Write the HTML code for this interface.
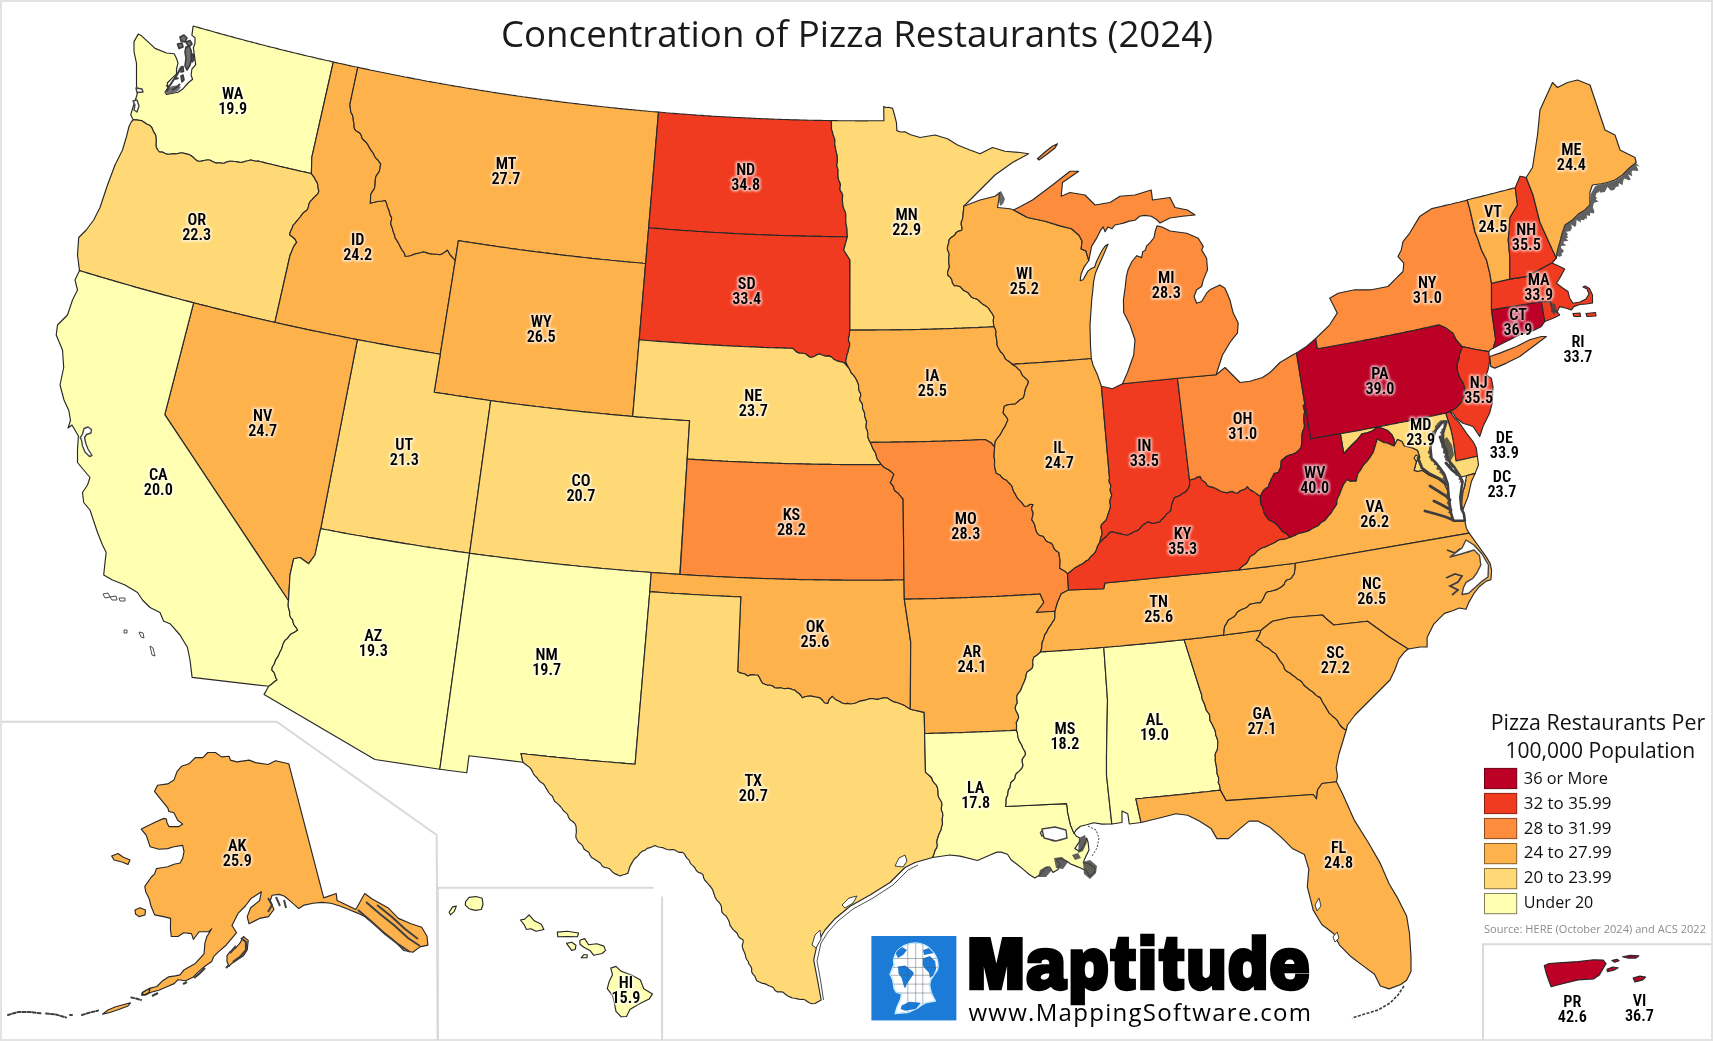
<!DOCTYPE html>
<html><head><meta charset="utf-8"><title>Concentration of Pizza Restaurants (2024)</title>
<style>
html,body{margin:0;padding:0;background:#fff;}
body{width:1713px;height:1041px;overflow:hidden;position:relative;}
svg{position:absolute;left:0;top:0;}
.s{stroke:#282828;stroke-width:1.15;stroke-linejoin:round;}
.w{fill:#fff;stroke:#444;stroke-width:1.4;stroke-linejoin:round;}
.lab text{font-family:"Roboto Condensed","Liberation Sans Narrow","Liberation Sans",sans-serif;font-weight:600;font-size:16.2px;text-anchor:middle;fill:#000;}
.halo text{font-family:"Roboto Condensed","Liberation Sans Narrow","Liberation Sans",sans-serif;font-weight:600;font-size:16.2px;text-anchor:middle;fill:#fff;stroke:#fff;stroke-width:3.2px;stroke-linejoin:round;opacity:0.7;}
.title{font-family:"Segoe UI","Open Sans","Liberation Sans",sans-serif;font-size:36.6px;fill:#1a1a1a;}
.leg{font-family:"Segoe UI","Open Sans","Liberation Sans",sans-serif;fill:#111;}
</style></head><body>
<svg width="1713" height="1041" viewBox="0 0 1713 1041">
<defs><filter id="blur" x="-20%" y="-20%" width="140%" height="140%"><feGaussianBlur stdDeviation="1.2"/></filter></defs>
<rect x="0" y="0" width="1713" height="1041" fill="#fff"/>
<rect x="1" y="1" width="1711" height="1039" fill="none" stroke="#e3e3e3" stroke-width="2"/>
<g fill="none" stroke="#d9d9d9" stroke-width="2">
<polyline points="2,721.7 276.7,721.7 436.7,835 437.7,1040"/>
<polyline points="437.8,1040 437.8,887.8 653.4,887.8"/>
<polyline points="662.1,896.5 662.1,1040"/>
<polyline points="1483.1,1040 1483.1,944.2 1711,944.2"/>
</g>
<g><path class="s" fill="#ffffb2" d="M193.1,26.0 195.5,26.7 198.0,27.4 200.4,28.1 202.8,28.8 205.3,29.5 207.7,30.1 210.2,30.8 212.6,31.5 215.1,32.2 217.5,32.9 220.0,33.6 222.4,34.2 224.9,34.9 227.3,35.6 229.8,36.2 232.2,36.9 234.7,37.6 237.1,38.2 239.6,38.9 242.0,39.5 244.5,40.2 246.9,40.9 249.4,41.5 251.8,42.1 254.3,42.8 256.8,43.4 259.2,44.1 261.7,44.7 264.1,45.3 266.6,46.0 269.1,46.6 271.5,47.2 274.0,47.8 276.4,48.4 278.9,49.1 281.4,49.7 283.8,50.3 286.3,50.9 288.8,51.5 291.2,52.1 293.7,52.7 296.2,53.3 298.6,53.9 301.1,54.5 303.6,55.1 306.0,55.7 308.5,56.3 311.0,56.8 313.5,57.4 315.9,58.0 318.4,58.6 320.9,59.1 323.4,59.7 325.8,60.3 328.3,60.8 330.8,61.4 333.3,62.0 311.8,157.3 311.4,173.6 311.4,173.6 308.7,173.0 306.1,172.4 303.4,171.8 300.7,171.2 298.1,170.6 295.4,170.0 292.7,169.4 290.1,168.8 287.4,168.1 284.7,167.5 282.1,166.9 279.4,166.3 276.8,165.6 274.1,165.0 271.4,164.3 268.8,163.7 266.1,163.1 263.5,162.4 260.8,161.8 258.2,161.1 255.6,161.2 253.1,160.5 250.6,160.0 248.0,160.8 245.5,161.3 243.0,162.1 240.2,162.5 237.5,161.9 234.7,161.5 231.9,161.3 229.2,161.2 226.5,162.1 224.1,163.3 221.5,163.1 218.9,162.7 216.4,163.1 212.9,161.8 209.6,160.0 206.8,160.0 203.9,160.5 201.1,161.1 197.9,161.2 195.1,159.2 192.8,157.0 190.5,155.3 188.0,154.3 185.3,153.6 182.7,153.0 179.8,153.0 177.3,153.7 174.8,153.9 172.3,153.8 169.8,154.2 167.1,154.1 164.7,153.2 162.3,152.1 159.4,152.0 157.4,149.5 156.0,146.6 156.0,143.5 156.2,140.6 156.0,137.7 155.7,135.2 154.6,133.4 153.3,131.2 152.5,128.9 151.1,126.6 149.0,125.0 146.6,123.9 144.1,122.2 141.5,120.6 138.8,120.2 136.0,119.9 133.2,119.8 130.7,114.8 133.2,106.5 136.5,96.5 138.2,89.9 136.5,86.6 136.5,63.3 134.0,51.6 134.0,41.6 138.2,34.1 141.5,35.8 153.2,46.6 155.0,48.4 166.5,53.0 174.2,53.8 176.5,58.4 178.0,63.0 176.5,69.2 176.5,73.8 171.9,78.4 167.3,83.0 168.1,87.6 165.0,92.2 166.5,94.5 178.0,92.2 182.7,89.1 188.0,83.0 192.6,79.2 191.1,75.3 191.9,69.2 195.7,64.6 194.2,53.8 193.4,47.7 195.0,43.0 195.0,37.7 191.9,35.4Z"/><path class="s" fill="#fed976" d="M133.2,119.8 136.0,119.9 138.8,120.2 141.5,120.6 144.1,122.2 146.6,123.9 149.0,125.0 151.1,126.6 152.5,128.9 153.3,131.2 154.6,133.4 155.7,135.2 156.0,137.7 156.2,140.6 156.0,143.5 156.0,146.6 157.4,149.5 159.4,152.0 162.3,152.1 164.7,153.2 167.1,154.1 169.8,154.2 172.3,153.8 174.8,153.9 177.3,153.7 179.8,153.0 182.7,153.0 185.3,153.6 188.0,154.3 190.5,155.3 192.8,157.0 195.1,159.2 197.9,161.2 201.1,161.1 203.9,160.5 206.8,160.0 209.6,160.0 212.9,161.8 216.4,163.1 218.9,162.7 221.5,163.1 224.1,163.3 226.5,162.1 229.2,161.2 231.9,161.3 234.7,161.5 237.5,161.9 240.2,162.5 243.0,162.1 245.5,161.3 248.0,160.8 250.6,160.0 253.1,160.5 255.6,161.2 258.2,161.1 260.8,161.8 263.5,162.4 266.1,163.1 268.8,163.7 271.4,164.3 274.1,165.0 276.8,165.6 279.4,166.3 282.1,166.9 284.7,167.5 287.4,168.1 290.1,168.8 292.7,169.4 295.4,170.0 298.1,170.6 300.7,171.2 303.4,171.8 306.1,172.4 308.7,173.0 311.4,173.6 311.4,173.6 313.1,175.8 314.6,177.9 315.8,180.4 317.2,182.6 317.9,185.4 318.1,188.3 318.9,191.2 317.8,193.9 315.8,195.8 313.8,197.6 312.1,199.7 310.2,201.6 309.0,203.9 308.5,206.6 307.7,209.1 305.9,211.1 303.6,212.6 301.9,214.5 300.3,216.8 298.5,219.0 296.7,221.2 294.9,223.4 293.0,225.3 292.4,227.6 291.2,230.0 290.1,232.4 289.8,235.1 292.6,237.0 295.1,239.2 296.7,242.4 294.8,244.9 293.4,247.3 292.3,249.9 291.3,252.5 290.1,255.0 274.9,322.4 272.2,321.8 269.4,321.2 266.6,320.5 263.8,319.9 261.1,319.3 258.3,318.6 255.5,318.0 252.7,317.3 250.0,316.7 247.2,316.0 244.4,315.4 241.6,314.7 238.9,314.0 236.1,313.4 233.3,312.7 230.6,312.0 227.8,311.4 225.0,310.7 222.3,310.0 219.5,309.3 216.7,308.6 214.0,308.0 211.2,307.3 208.5,306.6 205.7,305.9 202.9,305.2 200.2,304.5 197.4,303.8 194.7,303.1 191.9,302.3 189.1,301.6 186.4,300.9 183.6,300.2 180.9,299.5 178.1,298.7 175.4,298.0 172.6,297.3 169.9,296.5 167.1,295.8 164.4,295.1 161.6,294.3 158.9,293.6 156.1,292.8 153.4,292.1 150.6,291.3 147.9,290.6 145.1,289.8 142.4,289.0 139.7,288.3 136.9,287.5 134.2,286.7 131.4,285.9 128.7,285.2 126.0,284.4 123.2,283.6 120.5,282.8 117.7,282.0 115.0,281.2 112.3,280.4 109.5,279.6 106.8,278.8 104.1,278.0 101.4,277.2 98.6,276.4 95.9,275.6 93.2,274.8 90.4,274.0 87.7,273.1 85.0,272.3 82.3,271.5 79.5,270.6 77.5,255.0 78.7,237.5 86.2,230.0 93.7,220.0 100.0,207.5 107.5,185.0 115.0,165.0 122.5,150.0 126.5,136.5 129.0,126.5 131.5,121.5Z"/><path class="s" fill="#feb24c" d="M333.3,62.0 336.0,62.6 338.7,63.2 341.4,63.8 344.2,64.4 346.9,65.0 349.6,65.6 352.3,66.2 355.1,66.8 357.8,67.3 349.9,104.3 350.2,107.0 350.5,109.8 351.0,112.5 352.5,115.1 353.2,117.8 353.3,120.6 354.0,123.2 354.0,126.0 354.5,128.8 356.2,130.9 358.8,132.3 360.8,134.1 361.6,136.7 362.7,139.2 364.8,141.0 366.6,142.9 368.1,145.1 369.3,147.4 370.6,149.6 372.2,151.6 373.6,153.8 374.6,156.3 376.2,158.3 378.0,160.2 379.5,162.3 380.8,164.1 380.2,166.4 379.9,169.2 379.1,171.8 377.4,174.1 375.9,176.5 375.4,179.2 375.2,182.0 375.1,184.8 374.7,187.4 373.6,189.9 371.8,192.3 370.7,194.8 370.6,197.5 370.5,200.3 370.3,203.2 373.4,202.5 376.2,201.8 379.1,201.3 382.0,201.0 385.4,200.5 386.8,203.9 387.5,206.9 388.8,209.7 389.6,212.6 390.2,215.1 391.6,217.4 391.5,220.0 390.7,222.8 391.1,225.3 392.2,227.7 392.8,230.1 393.6,232.6 394.6,235.0 395.0,237.5 396.6,240.1 398.2,242.6 399.6,245.2 400.6,247.6 402.0,249.8 403.6,252.0 404.8,254.3 405.2,256.3 408.1,256.0 411.3,255.5 414.1,254.0 417.0,253.4 420.0,252.7 423.0,251.8 425.9,252.4 428.6,253.4 431.5,253.9 434.3,254.0 437.2,254.3 439.9,254.7 442.6,253.4 445.1,251.8 447.5,250.0 448.7,252.3 450.0,254.6 451.7,256.5 453.5,258.4 455.3,260.3 440.3,354.2 437.5,353.7 434.6,353.3 431.8,352.8 429.0,352.4 426.2,351.9 423.4,351.4 420.6,351.0 417.8,350.5 414.9,350.0 412.1,349.5 409.3,349.1 406.5,348.6 403.7,348.1 400.9,347.6 398.1,347.1 395.3,346.6 392.4,346.1 389.6,345.6 386.8,345.1 384.0,344.6 381.2,344.1 378.4,343.6 375.6,343.0 372.8,342.5 370.0,342.0 367.2,341.5 364.4,340.9 361.6,340.4 358.8,339.9 356.0,339.3 353.2,338.8 350.4,338.3 347.6,337.7 344.8,337.2 342.0,336.6 339.2,336.0 336.4,335.5 333.6,334.9 330.8,334.4 328.0,333.8 325.2,333.2 322.4,332.6 319.6,332.1 316.8,331.5 314.0,330.9 311.2,330.3 308.4,329.7 305.6,329.1 302.8,328.5 300.0,327.9 297.2,327.3 294.4,326.7 291.7,326.1 288.9,325.5 286.1,324.9 283.3,324.3 280.5,323.7 277.7,323.0 274.9,322.4 290.1,255.0 291.3,252.5 292.3,249.9 293.4,247.3 294.8,244.9 296.7,242.4 295.1,239.2 292.6,237.0 289.8,235.1 290.1,232.4 291.2,230.0 292.4,227.6 293.0,225.3 294.9,223.4 296.7,221.2 298.5,219.0 300.3,216.8 301.9,214.5 303.6,212.6 305.9,211.1 307.7,209.1 308.5,206.6 309.0,203.9 310.2,201.6 312.1,199.7 313.8,197.6 315.8,195.8 317.8,193.9 318.9,191.2 318.1,188.3 317.9,185.4 317.2,182.6 315.8,180.4 314.6,177.9 313.1,175.8 311.4,173.6 311.8,157.3Z"/><path class="s" fill="#feb24c" d="M357.8,67.3 360.3,67.9 362.7,68.4 365.2,68.9 367.7,69.4 370.2,70.0 372.7,70.5 375.1,71.0 377.6,71.5 380.1,72.0 382.6,72.5 385.1,73.0 387.6,73.5 390.1,74.0 392.5,74.5 395.0,75.0 397.5,75.5 400.0,76.0 402.5,76.5 405.0,77.0 407.5,77.4 410.0,77.9 412.5,78.4 414.9,78.9 417.4,79.3 419.9,79.8 422.4,80.3 424.9,80.7 427.4,81.2 429.9,81.6 432.4,82.1 434.9,82.5 437.4,83.0 439.9,83.4 442.4,83.9 444.9,84.3 447.4,84.8 449.9,85.2 452.4,85.6 454.9,86.1 457.4,86.5 459.9,86.9 462.4,87.3 464.9,87.8 467.4,88.2 469.9,88.6 472.4,89.0 474.9,89.4 477.4,89.8 479.9,90.2 482.4,90.6 484.9,91.0 487.4,91.4 489.9,91.8 492.4,92.2 494.9,92.6 497.4,93.0 499.9,93.4 502.4,93.7 504.9,94.1 507.4,94.5 509.9,94.9 512.4,95.2 515.0,95.6 517.5,96.0 520.0,96.3 522.5,96.7 525.0,97.0 527.5,97.4 530.0,97.7 532.5,98.1 535.0,98.4 537.5,98.8 540.1,99.1 542.6,99.5 545.1,99.8 547.6,100.1 550.1,100.4 552.6,100.8 555.1,101.1 557.7,101.4 560.2,101.7 562.7,102.1 565.2,102.4 567.7,102.7 570.2,103.0 572.7,103.3 575.3,103.6 577.8,103.9 580.3,104.2 582.8,104.5 585.3,104.8 587.9,105.1 590.4,105.4 592.9,105.7 595.4,105.9 597.9,106.2 600.5,106.5 603.0,106.8 605.5,107.0 608.0,107.3 610.5,107.6 613.1,107.8 615.6,108.1 618.1,108.4 620.6,108.6 623.1,108.9 625.7,109.1 628.2,109.4 630.7,109.6 633.2,109.8 635.8,110.1 638.3,110.3 640.8,110.6 643.3,110.8 645.9,111.0 648.4,111.2 650.9,111.5 653.4,111.7 656.0,111.9 658.5,112.1 645.6,263.5 643.0,263.3 640.3,263.0 637.6,262.8 634.9,262.5 632.2,262.3 629.5,262.1 626.8,261.8 624.2,261.6 621.5,261.3 618.8,261.1 616.1,260.8 613.4,260.5 610.7,260.3 608.1,260.0 605.4,259.7 602.7,259.5 600.0,259.2 597.3,258.9 594.7,258.6 592.0,258.4 589.3,258.1 586.6,257.8 583.9,257.5 581.3,257.2 578.6,256.9 575.9,256.6 573.2,256.3 570.6,256.0 567.9,255.7 565.2,255.4 562.5,255.1 559.8,254.7 557.2,254.4 554.5,254.1 551.8,253.8 549.1,253.4 546.5,253.1 543.8,252.8 541.1,252.4 538.4,252.1 535.8,251.8 533.1,251.4 530.4,251.1 527.8,250.7 525.1,250.4 522.4,250.0 519.7,249.7 517.1,249.3 514.4,248.9 511.7,248.6 509.1,248.2 506.4,247.8 503.7,247.4 501.1,247.1 498.4,246.7 495.7,246.3 493.1,245.9 490.4,245.5 487.7,245.1 485.1,244.7 482.4,244.3 479.7,243.9 477.1,243.5 474.4,243.1 471.7,242.7 469.1,242.3 466.4,241.9 463.7,241.5 461.1,241.0 458.4,240.6 455.3,260.3 453.5,258.4 451.7,256.5 450.0,254.6 448.7,252.3 447.5,250.0 445.1,251.8 442.6,253.4 439.9,254.7 437.2,254.3 434.3,254.0 431.5,253.9 428.6,253.4 425.9,252.4 423.0,251.8 420.0,252.7 417.0,253.4 414.1,254.0 411.3,255.5 408.1,256.0 405.2,256.3 404.8,254.3 403.6,252.0 402.0,249.8 400.6,247.6 399.6,245.2 398.2,242.6 396.6,240.1 395.0,237.5 394.6,235.0 393.6,232.6 392.8,230.1 392.2,227.7 391.1,225.3 390.7,222.8 391.5,220.0 391.6,217.4 390.2,215.1 389.6,212.6 388.8,209.7 387.5,206.9 386.8,203.9 385.4,200.5 382.0,201.0 379.1,201.3 376.2,201.8 373.4,202.5 370.3,203.2 370.5,200.3 370.6,197.5 370.7,194.8 371.8,192.3 373.6,189.9 374.7,187.4 375.1,184.8 375.2,182.0 375.4,179.2 375.9,176.5 377.4,174.1 379.1,171.8 379.9,169.2 380.2,166.4 380.8,164.1 379.5,162.3 378.0,160.2 376.2,158.3 374.6,156.3 373.6,153.8 372.2,151.6 370.6,149.6 369.3,147.4 368.1,145.1 366.6,142.9 364.8,141.0 362.7,139.2 361.6,136.7 360.8,134.1 358.8,132.3 356.2,130.9 354.5,128.8 354.0,126.0 354.0,123.2 353.3,120.6 353.2,117.8 352.5,115.1 351.0,112.5 350.5,109.8 350.2,107.0 349.9,104.3Z"/><path class="s" fill="#feb24c" d="M458.4,240.6 461.1,241.0 463.7,241.5 466.4,241.9 469.1,242.3 471.7,242.7 474.4,243.1 477.1,243.5 479.7,243.9 482.4,244.3 485.1,244.7 487.7,245.1 490.4,245.5 493.1,245.9 495.7,246.3 498.4,246.7 501.1,247.1 503.7,247.4 506.4,247.8 509.1,248.2 511.7,248.6 514.4,248.9 517.1,249.3 519.7,249.7 522.4,250.0 525.1,250.4 527.8,250.7 530.4,251.1 533.1,251.4 535.8,251.8 538.4,252.1 541.1,252.4 543.8,252.8 546.5,253.1 549.1,253.4 551.8,253.8 554.5,254.1 557.2,254.4 559.8,254.7 562.5,255.1 565.2,255.4 567.9,255.7 570.6,256.0 573.2,256.3 575.9,256.6 578.6,256.9 581.3,257.2 583.9,257.5 586.6,257.8 589.3,258.1 592.0,258.4 594.7,258.6 597.3,258.9 600.0,259.2 602.7,259.5 605.4,259.7 608.1,260.0 610.7,260.3 613.4,260.5 616.1,260.8 618.8,261.1 621.5,261.3 624.2,261.6 626.8,261.8 629.5,262.1 632.2,262.3 634.9,262.5 637.6,262.8 640.3,263.0 643.0,263.3 645.6,263.5 632.7,416.4 629.8,416.2 627.0,415.9 624.1,415.7 621.3,415.4 618.4,415.2 615.6,414.9 612.7,414.6 609.9,414.4 607.0,414.1 604.2,413.8 601.4,413.6 598.5,413.3 595.7,413.0 592.8,412.7 590.0,412.4 587.1,412.2 584.3,411.9 581.5,411.6 578.6,411.3 575.8,411.0 572.9,410.7 570.1,410.4 567.3,410.1 564.4,409.7 561.6,409.4 558.7,409.1 555.9,408.8 553.1,408.5 550.2,408.1 547.4,407.8 544.6,407.5 541.7,407.1 538.9,406.8 536.0,406.5 533.2,406.1 530.4,405.8 527.5,405.4 524.7,405.1 521.9,404.7 519.0,404.3 516.2,404.0 513.4,403.6 510.5,403.2 507.7,402.9 504.9,402.5 502.0,402.1 499.2,401.7 496.4,401.4 493.6,401.0 490.7,400.6 487.9,400.2 485.1,399.8 482.2,399.4 479.4,399.0 476.6,398.6 473.8,398.2 470.9,397.8 468.1,397.4 465.3,396.9 462.5,396.5 459.6,396.1 456.8,395.7 454.0,395.2 451.2,394.8 448.3,394.4 445.5,393.9 442.7,393.5 439.9,393.1 437.0,392.6 434.2,392.2 440.3,354.2 455.3,260.3Z"/><path class="s" fill="#fed976" d="M357.4,339.6 360.2,340.2 363.1,340.7 365.9,341.2 368.8,341.8 371.6,342.3 374.5,342.8 377.3,343.4 380.2,343.9 383.0,344.4 385.9,344.9 388.8,345.4 391.6,346.0 394.5,346.5 397.3,347.0 400.2,347.5 403.1,348.0 405.9,348.5 408.8,349.0 411.6,349.5 414.5,349.9 417.4,350.4 420.2,350.9 423.1,351.4 426.0,351.9 428.8,352.3 431.7,352.8 434.6,353.3 437.4,353.7 440.3,354.2 434.2,392.2 437.0,392.6 439.9,393.1 442.7,393.5 445.5,393.9 448.3,394.4 451.2,394.8 454.0,395.2 456.8,395.7 459.6,396.1 462.5,396.5 465.3,396.9 468.1,397.4 470.9,397.8 473.8,398.2 476.6,398.6 479.4,399.0 482.2,399.4 485.1,399.8 487.9,400.2 490.7,400.6 469.6,553.2 466.6,552.8 463.7,552.4 460.7,552.0 457.7,551.6 454.7,551.1 451.7,550.7 448.7,550.3 445.7,549.8 442.7,549.4 439.8,548.9 436.8,548.5 433.8,548.0 430.8,547.6 427.8,547.1 424.8,546.7 421.8,546.2 418.9,545.8 415.9,545.3 412.9,544.8 409.9,544.3 406.9,543.9 404.0,543.4 401.0,542.9 398.0,542.4 395.0,541.9 392.0,541.4 389.1,540.9 386.1,540.4 383.1,539.9 380.1,539.4 377.2,538.9 374.2,538.4 371.2,537.9 368.2,537.4 365.3,536.8 362.3,536.3 359.3,535.8 356.3,535.3 353.4,534.7 350.4,534.2 347.4,533.7 344.5,533.1 341.5,532.6 338.5,532.0 335.6,531.5 332.6,530.9 329.6,530.3 326.7,529.8 323.7,529.2 320.7,528.6Z"/><path class="s" fill="#fed976" d="M490.7,400.6 493.6,401.0 496.4,401.4 499.2,401.7 502.0,402.1 504.9,402.5 507.7,402.9 510.5,403.2 513.4,403.6 516.2,404.0 519.0,404.3 521.9,404.7 524.7,405.1 527.5,405.4 530.4,405.8 533.2,406.1 536.0,406.5 538.9,406.8 541.7,407.1 544.6,407.5 547.4,407.8 550.2,408.1 553.1,408.5 555.9,408.8 558.7,409.1 561.6,409.4 564.4,409.7 567.3,410.1 570.1,410.4 572.9,410.7 575.8,411.0 578.6,411.3 581.5,411.6 584.3,411.9 587.1,412.2 590.0,412.4 592.8,412.7 595.7,413.0 598.5,413.3 601.4,413.6 604.2,413.8 607.0,414.1 609.9,414.4 612.7,414.6 615.6,414.9 618.4,415.2 621.3,415.4 624.1,415.7 627.0,415.9 629.8,416.2 632.7,416.4 635.5,416.6 638.3,416.9 641.2,417.1 644.0,417.3 646.9,417.6 649.7,417.8 652.6,418.0 655.4,418.2 658.3,418.5 661.1,418.7 664.0,418.9 666.8,419.1 669.7,419.3 672.5,419.5 675.4,419.7 678.2,419.9 681.1,420.1 683.9,420.3 686.8,420.5 689.6,420.6 679.8,574.4 676.8,574.2 673.8,574.0 670.8,573.8 667.8,573.6 664.8,573.4 661.8,573.2 658.7,573.0 655.7,572.8 652.7,572.6 649.7,572.3 646.7,572.1 643.7,571.9 640.7,571.7 637.7,571.4 634.7,571.2 631.7,570.9 628.6,570.7 625.6,570.5 622.6,570.2 619.6,569.9 616.6,569.7 613.6,569.4 610.6,569.2 607.6,568.9 604.6,568.6 601.6,568.4 598.6,568.1 595.6,567.8 592.6,567.5 589.6,567.2 586.5,566.9 583.5,566.7 580.5,566.4 577.5,566.1 574.5,565.8 571.5,565.5 568.5,565.1 565.5,564.8 562.5,564.5 559.5,564.2 556.5,563.9 553.5,563.6 550.5,563.2 547.5,562.9 544.5,562.6 541.5,562.2 538.5,561.9 535.5,561.6 532.5,561.2 529.5,560.9 526.5,560.5 523.5,560.2 520.5,559.8 517.5,559.4 514.5,559.1 511.5,558.7 508.5,558.3 505.5,558.0 502.6,557.6 499.6,557.2 496.6,556.8 493.6,556.4 490.6,556.0 487.6,555.7 484.6,555.3 481.6,554.9 478.6,554.5 475.6,554.0 472.6,553.6 469.6,553.2Z"/><path class="s" fill="#feb24c" d="M193.6,302.8 196.4,303.5 199.1,304.2 201.9,304.9 204.7,305.6 207.4,306.3 210.2,307.0 212.9,307.7 215.7,308.4 218.5,309.1 221.2,309.8 224.0,310.4 226.7,311.1 229.5,311.8 232.3,312.5 235.0,313.1 237.8,313.8 240.6,314.5 243.3,315.1 246.1,315.8 248.9,316.4 251.6,317.1 254.4,317.7 257.2,318.4 260.0,319.0 262.7,319.6 265.5,320.3 268.3,320.9 271.0,321.5 273.8,322.2 276.6,322.8 279.4,323.4 282.2,324.0 284.9,324.7 287.7,325.3 290.5,325.9 293.3,326.5 296.0,327.1 298.8,327.7 301.6,328.3 304.4,328.9 307.2,329.5 310.0,330.1 312.7,330.6 315.5,331.2 318.3,331.8 321.1,332.4 323.9,333.0 326.7,333.5 329.5,334.1 332.2,334.7 335.0,335.2 337.8,335.8 340.6,336.3 343.4,336.9 346.2,337.4 349.0,338.0 351.8,338.5 354.6,339.1 357.4,339.6 320.7,528.6 315.0,555.0 308.7,563.7 300.0,557.5 293.7,558.7 290.0,575.0 288.5,600.8 164.8,414.6Z"/><path class="s" fill="#ffffb2" d="M79.5,270.6 82.2,271.5 84.9,272.3 87.6,273.1 90.3,273.9 93.0,274.7 95.7,275.5 98.5,276.4 101.2,277.2 103.9,278.0 106.6,278.8 109.3,279.6 112.0,280.3 114.7,281.1 117.4,281.9 120.1,282.7 122.8,283.5 125.5,284.3 128.3,285.0 131.0,285.8 133.7,286.6 136.4,287.4 139.1,288.1 141.8,288.9 144.6,289.6 147.3,290.4 150.0,291.1 152.7,291.9 155.4,292.6 158.2,293.4 160.9,294.1 163.6,294.9 166.3,295.6 169.1,296.3 171.8,297.1 174.5,297.8 177.3,298.5 180.0,299.2 182.7,300.0 185.4,300.7 188.2,301.4 190.9,302.1 193.6,302.8 164.8,414.6 288.5,600.8 288.2,603.9 288.3,607.0 289.1,609.9 289.8,612.4 289.7,615.1 290.7,617.6 292.6,619.7 293.1,622.2 294.1,625.0 296.0,627.4 297.7,630.0 295.4,631.7 293.1,633.0 290.7,634.3 288.9,636.4 287.3,638.6 285.2,640.2 283.8,642.4 282.8,644.9 282.1,647.5 281.1,650.0 279.7,652.6 278.6,655.4 277.1,657.9 275.5,660.2 274.9,662.6 273.7,665.0 272.2,667.3 271.9,670.1 274.0,672.4 275.0,675.0 275.8,677.7 277.0,679.9 275.0,681.2 273.0,683.0 270.9,684.7 268.7,686.3 192.1,677.4 190.0,660.0 187.5,647.5 180.0,635.0 170.0,623.7 163.7,621.2 160.0,612.5 150.0,607.5 142.5,600.0 137.5,592.5 125.0,585.0 112.5,580.0 103.7,575.0 105.0,562.5 106.2,552.5 102.5,545.0 97.5,532.5 90.0,510.0 83.7,502.5 82.5,492.5 87.5,485.0 90.0,477.5 83.7,470.0 77.5,462.5 77.5,450.0 78.4,436.0 72.0,425.0 68.0,428.0 70.5,420.5 68.8,410.5 64.0,400.0 60.0,385.0 63.7,367.5 62.5,350.0 56.2,335.0 57.5,325.0 67.5,315.0 72.5,300.0 77.5,290.0 75.0,280.0Z"/><path class="s" fill="#ffffb2" d="M320.7,528.6 323.7,529.2 326.7,529.8 329.6,530.3 332.6,530.9 335.6,531.5 338.5,532.0 341.5,532.6 344.5,533.1 347.4,533.7 350.4,534.2 353.4,534.7 356.3,535.3 359.3,535.8 362.3,536.3 365.3,536.8 368.2,537.4 371.2,537.9 374.2,538.4 377.2,538.9 380.1,539.4 383.1,539.9 386.1,540.4 389.1,540.9 392.0,541.4 395.0,541.9 398.0,542.4 401.0,542.9 404.0,543.4 406.9,543.9 409.9,544.3 412.9,544.8 415.9,545.3 418.9,545.8 421.8,546.2 424.8,546.7 427.8,547.1 430.8,547.6 433.8,548.0 436.8,548.5 439.8,548.9 442.7,549.4 445.7,549.8 448.7,550.3 451.7,550.7 454.7,551.1 457.7,551.6 460.7,552.0 463.7,552.4 466.6,552.8 469.6,553.2 439.8,769.2 374.9,759.5 264.1,694.4 268.7,686.3 270.9,684.7 273.0,683.0 275.0,681.2 277.0,679.9 275.8,677.7 275.0,675.0 274.0,672.4 271.9,670.1 272.2,667.3 273.7,665.0 274.9,662.6 275.5,660.2 277.1,657.9 278.6,655.4 279.7,652.6 281.1,650.0 282.1,647.5 282.8,644.9 283.8,642.4 285.2,640.2 287.3,638.6 288.9,636.4 290.7,634.3 293.1,633.0 295.4,631.7 297.7,630.0 296.0,627.4 294.1,625.0 293.1,622.2 292.6,619.7 290.7,617.6 289.7,615.1 289.8,612.4 289.1,609.9 288.3,607.0 288.2,603.9 288.5,600.8 290.0,575.0 293.7,558.7 300.0,557.5 308.7,563.7 315.0,555.0Z"/><path class="s" fill="#ffffb2" d="M469.6,553.2 472.6,553.6 475.7,554.1 478.7,554.5 481.7,554.9 484.7,555.3 487.7,555.7 490.8,556.1 493.8,556.5 496.8,556.8 499.8,557.2 502.8,557.6 505.8,558.0 508.9,558.4 511.9,558.7 514.9,559.1 517.9,559.5 521.0,559.8 524.0,560.2 527.0,560.6 530.0,560.9 533.0,561.3 536.1,561.6 539.1,562.0 542.1,562.3 545.1,562.6 548.2,563.0 551.2,563.3 554.2,563.6 557.2,564.0 560.3,564.3 563.3,564.6 566.3,564.9 569.4,565.2 572.4,565.5 575.4,565.8 578.4,566.2 581.5,566.5 584.5,566.7 587.5,567.0 590.6,567.3 593.6,567.6 596.6,567.9 599.6,568.2 602.7,568.5 605.7,568.7 608.7,569.0 611.8,569.3 614.8,569.5 617.8,569.8 620.9,570.1 623.9,570.3 626.9,570.6 630.0,570.8 633.0,571.1 636.0,571.3 639.1,571.5 642.1,571.8 645.1,572.0 648.2,572.2 651.2,572.5 649.8,591.7 635.1,764.1 635.1,764.1 631.9,763.9 628.6,763.6 625.3,763.4 622.1,763.1 618.8,762.8 615.5,762.6 612.3,762.3 609.0,762.0 605.7,761.8 602.5,761.5 599.2,761.2 596.0,760.9 592.7,760.6 589.4,760.4 586.2,760.1 582.9,759.8 579.6,759.5 576.4,759.2 573.1,758.8 569.9,758.5 566.6,758.2 563.3,757.9 560.1,757.6 556.8,757.3 553.5,756.9 550.3,756.6 547.0,756.3 543.8,755.9 540.5,755.6 537.3,755.2 534.0,754.9 530.7,754.5 527.5,754.2 524.2,753.8 521.0,753.5 522.9,762.2 469.0,755.7 466.8,772.8 439.8,769.2Z"/><path class="s" fill="#f03b20" d="M658.5,112.1 661.0,112.3 663.6,112.5 666.1,112.8 668.6,113.0 671.2,113.2 673.7,113.4 676.2,113.6 678.8,113.8 681.3,114.0 683.8,114.1 686.4,114.3 688.9,114.5 691.4,114.7 694.0,114.9 696.5,115.1 699.1,115.2 701.6,115.4 704.1,115.6 706.7,115.7 709.2,115.9 711.7,116.1 714.3,116.2 716.8,116.4 719.4,116.5 721.9,116.7 724.4,116.8 727.0,117.0 729.5,117.1 732.0,117.2 734.6,117.4 737.1,117.5 739.7,117.6 742.2,117.8 744.7,117.9 747.3,118.0 749.8,118.1 752.4,118.3 754.9,118.4 757.4,118.5 760.0,118.6 762.5,118.7 765.1,118.8 767.6,118.9 770.1,119.0 772.7,119.1 775.2,119.2 777.8,119.3 780.3,119.4 782.8,119.5 785.4,119.5 787.9,119.6 790.5,119.7 793.0,119.8 795.6,119.8 798.1,119.9 800.6,120.0 803.2,120.0 805.7,120.1 808.3,120.2 810.8,120.2 813.4,120.3 815.9,120.3 818.4,120.4 821.0,120.4 823.5,120.5 826.1,120.5 828.6,120.5 831.1,120.6 831.5,123.4 831.5,126.3 831.5,129.2 832.5,131.9 833.1,134.7 834.1,137.4 835.0,139.9 834.8,142.4 834.8,145.0 835.5,147.5 835.8,150.0 836.4,152.4 837.1,154.9 837.3,157.4 837.4,160.0 837.3,162.5 836.8,165.1 837.3,167.6 838.1,170.0 838.0,172.6 838.0,175.1 838.2,177.7 838.7,180.1 839.9,182.5 840.5,185.0 840.0,187.7 840.1,190.3 841.7,192.6 842.8,194.9 842.5,197.6 842.4,200.2 842.7,202.8 842.9,205.3 843.5,207.7 844.5,210.1 845.5,212.5 845.9,215.0 845.8,217.5 845.8,220.1 845.9,222.6 846.2,225.1 846.8,227.5 847.1,230.0 847.1,233.4 847.4,236.7 844.8,236.7 842.1,236.7 839.4,236.7 836.7,236.7 834.0,236.6 831.3,236.6 828.6,236.6 825.9,236.5 823.2,236.5 820.6,236.4 817.9,236.4 815.2,236.3 812.5,236.3 809.8,236.2 807.1,236.2 804.4,236.1 801.7,236.1 799.0,236.0 796.4,235.9 793.7,235.9 791.0,235.8 788.3,235.7 785.6,235.6 782.9,235.5 780.2,235.5 777.5,235.4 774.8,235.3 772.2,235.2 769.5,235.1 766.8,235.0 764.1,234.9 761.4,234.8 758.7,234.7 756.0,234.6 753.3,234.4 750.7,234.3 748.0,234.2 745.3,234.1 742.6,234.0 739.9,233.8 737.2,233.7 734.5,233.6 731.9,233.4 729.2,233.3 726.5,233.1 723.8,233.0 721.1,232.8 718.4,232.7 715.7,232.5 713.1,232.4 710.4,232.2 707.7,232.1 705.0,231.9 702.3,231.7 699.6,231.5 696.9,231.4 694.3,231.2 691.6,231.0 688.9,230.8 686.2,230.6 683.5,230.5 680.8,230.3 678.2,230.1 675.5,229.9 672.8,229.7 670.1,229.5 667.4,229.3 664.8,229.1 662.1,228.8 659.4,228.6 656.7,228.4 654.0,228.2 651.4,228.0 648.7,227.7Z"/><path class="s" fill="#f03b20" d="M648.7,227.7 651.4,228.0 654.0,228.2 656.7,228.4 659.4,228.6 662.1,228.8 664.8,229.1 667.4,229.3 670.1,229.5 672.8,229.7 675.5,229.9 678.2,230.1 680.8,230.3 683.5,230.5 686.2,230.6 688.9,230.8 691.6,231.0 694.3,231.2 696.9,231.4 699.6,231.5 702.3,231.7 705.0,231.9 707.7,232.1 710.4,232.2 713.1,232.4 715.7,232.5 718.4,232.7 721.1,232.8 723.8,233.0 726.5,233.1 729.2,233.3 731.9,233.4 734.5,233.6 737.2,233.7 739.9,233.8 742.6,234.0 745.3,234.1 748.0,234.2 750.7,234.3 753.3,234.4 756.0,234.6 758.7,234.7 761.4,234.8 764.1,234.9 766.8,235.0 769.5,235.1 772.2,235.2 774.8,235.3 777.5,235.4 780.2,235.5 782.9,235.5 785.6,235.6 788.3,235.7 791.0,235.8 793.7,235.9 796.4,235.9 799.0,236.0 801.7,236.1 804.4,236.1 807.1,236.2 809.8,236.2 812.5,236.3 815.2,236.3 817.9,236.4 820.6,236.4 823.2,236.5 825.9,236.5 828.6,236.6 831.3,236.6 834.0,236.6 836.7,236.7 839.4,236.7 842.1,236.7 844.8,236.7 847.4,236.7 843.7,250.0 850.0,260.0 849.9,330.1 849.5,332.8 849.4,335.6 848.4,338.3 848.7,341.1 849.8,343.8 849.5,346.6 848.5,349.2 848.1,352.1 847.0,354.8 846.4,358.2 845.7,361.6 847.2,365.0 849.0,368.2 847.1,366.4 845.6,364.3 843.6,362.5 839.9,361.6 836.3,360.6 833.7,359.2 831.4,356.9 828.5,355.9 825.5,356.2 822.7,355.3 819.9,354.0 817.3,354.5 815.0,356.0 812.6,357.1 809.9,357.3 807.6,355.5 805.4,353.8 802.4,353.3 799.3,353.1 796.4,351.9 792.9,348.4 790.1,348.3 787.3,348.2 784.5,348.1 781.7,348.0 778.9,347.9 776.1,347.9 773.3,347.8 770.5,347.7 767.8,347.6 765.0,347.5 762.2,347.4 759.4,347.3 756.6,347.1 753.8,347.0 751.0,346.9 748.2,346.8 745.4,346.7 742.6,346.5 739.8,346.4 737.0,346.3 734.2,346.2 731.4,346.0 728.6,345.9 725.8,345.7 723.0,345.6 720.2,345.4 717.4,345.3 714.6,345.1 711.8,345.0 709.0,344.8 706.2,344.6 703.4,344.5 700.6,344.3 697.8,344.1 695.0,344.0 692.2,343.8 689.4,343.6 686.6,343.4 683.8,343.2 681.0,343.0 678.3,342.8 675.5,342.6 672.7,342.4 669.9,342.2 667.1,342.0 664.3,341.8 661.5,341.6 658.7,341.4 655.9,341.2 653.1,341.0 650.3,340.7 647.5,340.5 644.7,340.3 641.9,340.0 639.2,339.8Z"/><path class="s" fill="#fed976" d="M639.2,339.8 641.9,340.0 644.7,340.3 647.5,340.5 650.3,340.7 653.1,341.0 655.9,341.2 658.7,341.4 661.5,341.6 664.3,341.8 667.1,342.0 669.9,342.2 672.7,342.4 675.5,342.6 678.3,342.8 681.0,343.0 683.8,343.2 686.6,343.4 689.4,343.6 692.2,343.8 695.0,344.0 697.8,344.1 700.6,344.3 703.4,344.5 706.2,344.6 709.0,344.8 711.8,345.0 714.6,345.1 717.4,345.3 720.2,345.4 723.0,345.6 725.8,345.7 728.6,345.9 731.4,346.0 734.2,346.2 737.0,346.3 739.8,346.4 742.6,346.5 745.4,346.7 748.2,346.8 751.0,346.9 753.8,347.0 756.6,347.1 759.4,347.3 762.2,347.4 765.0,347.5 767.8,347.6 770.5,347.7 773.3,347.8 776.1,347.9 778.9,347.9 781.7,348.0 784.5,348.1 787.3,348.2 790.1,348.3 792.9,348.4 796.4,351.9 799.3,353.1 802.4,353.3 805.4,353.8 807.6,355.5 809.9,357.3 812.6,357.1 815.0,356.0 817.3,354.5 819.9,354.0 822.7,355.3 825.5,356.2 828.5,355.9 831.4,356.9 833.7,359.2 836.3,360.6 839.9,361.6 843.6,362.5 845.6,364.3 847.1,366.4 849.0,368.2 850.2,370.5 851.3,373.0 853.3,374.9 855.1,377.3 856.6,380.0 857.8,382.7 858.6,385.3 858.7,388.0 859.0,390.7 860.5,393.1 860.8,395.6 859.7,398.4 860.2,400.8 862.0,403.1 862.6,405.6 862.5,408.4 863.7,410.8 864.6,413.2 864.6,416.1 865.7,419.0 866.6,421.8 866.2,424.8 866.1,427.8 867.3,430.6 867.9,433.5 867.7,436.5 868.9,439.9 870.7,443.1 872.0,446.4 873.4,449.6 875.5,452.7 876.4,456.4 877.4,459.3 879.3,461.6 881.0,464.0 879.4,464.6 876.5,464.6 873.6,464.6 870.7,464.6 867.7,464.6 864.8,464.6 861.9,464.6 859.0,464.6 856.1,464.6 853.2,464.6 850.3,464.6 847.3,464.6 844.4,464.6 841.5,464.6 838.6,464.5 835.7,464.5 832.8,464.5 829.9,464.4 826.9,464.4 824.0,464.4 821.1,464.3 818.2,464.3 815.3,464.2 812.4,464.2 809.5,464.1 806.5,464.1 803.6,464.0 800.7,463.9 797.8,463.9 794.9,463.8 792.0,463.7 789.1,463.7 786.2,463.6 783.2,463.5 780.3,463.4 777.4,463.3 774.5,463.2 771.6,463.1 768.7,463.0 765.8,462.9 762.9,462.8 759.9,462.7 757.0,462.6 754.1,462.5 751.2,462.4 748.3,462.3 745.4,462.1 742.5,462.0 739.6,461.9 736.6,461.8 733.7,461.6 730.8,461.5 727.9,461.4 725.0,461.2 722.1,461.1 719.2,460.9 716.3,460.8 713.4,460.6 710.5,460.4 707.5,460.3 704.6,460.1 701.7,459.9 698.8,459.8 695.9,459.6 693.0,459.4 690.1,459.2 687.2,459.1 689.6,420.6 686.8,420.5 683.9,420.3 681.1,420.1 678.2,419.9 675.4,419.7 672.5,419.5 669.7,419.3 666.8,419.1 664.0,418.9 661.1,418.7 658.3,418.5 655.4,418.2 652.6,418.0 649.7,417.8 646.9,417.6 644.0,417.3 641.2,417.1 638.3,416.9 635.5,416.6 632.7,416.4Z"/><path class="s" fill="#fd8d3c" d="M687.2,459.1 690.1,459.2 693.0,459.4 695.9,459.6 698.8,459.8 701.7,459.9 704.6,460.1 707.5,460.3 710.5,460.4 713.4,460.6 716.3,460.8 719.2,460.9 722.1,461.1 725.0,461.2 727.9,461.4 730.8,461.5 733.7,461.6 736.6,461.8 739.6,461.9 742.5,462.0 745.4,462.1 748.3,462.3 751.2,462.4 754.1,462.5 757.0,462.6 759.9,462.7 762.9,462.8 765.8,462.9 768.7,463.0 771.6,463.1 774.5,463.2 777.4,463.3 780.3,463.4 783.2,463.5 786.2,463.6 789.1,463.7 792.0,463.7 794.9,463.8 797.8,463.9 800.7,463.9 803.6,464.0 806.5,464.1 809.5,464.1 812.4,464.2 815.3,464.2 818.2,464.3 821.1,464.3 824.0,464.4 826.9,464.4 829.9,464.4 832.8,464.5 835.7,464.5 838.6,464.5 841.5,464.6 844.4,464.6 847.3,464.6 850.3,464.6 853.2,464.6 856.1,464.6 859.0,464.6 861.9,464.6 864.8,464.6 867.7,464.6 870.7,464.6 873.6,464.6 876.5,464.6 879.4,464.6 881.0,464.0 883.1,466.5 885.6,468.2 888.3,469.5 891.2,471.7 893.9,474.4 892.6,477.5 891.6,480.4 890.2,482.7 891.8,484.3 893.4,486.4 894.1,489.4 895.7,491.6 898.1,493.0 899.7,495.2 901.4,497.1 903.1,499.0 904.0,579.9 901.0,580.0 897.9,580.0 894.9,580.0 891.9,580.1 888.9,580.1 885.8,580.1 882.8,580.2 879.8,580.2 876.7,580.2 873.7,580.2 870.7,580.2 867.7,580.2 864.6,580.2 861.6,580.2 858.6,580.2 855.6,580.2 852.5,580.2 849.5,580.2 846.5,580.2 843.4,580.2 840.4,580.1 837.4,580.1 834.4,580.1 831.3,580.1 828.3,580.0 825.3,580.0 822.3,580.0 819.2,579.9 816.2,579.9 813.2,579.8 810.2,579.8 807.1,579.7 804.1,579.6 801.1,579.6 798.1,579.5 795.0,579.4 792.0,579.4 789.0,579.3 785.9,579.2 782.9,579.1 779.9,579.0 776.9,579.0 773.8,578.9 770.8,578.8 767.8,578.7 764.8,578.6 761.7,578.5 758.7,578.4 755.7,578.2 752.7,578.1 749.6,578.0 746.6,577.9 743.6,577.8 740.6,577.6 737.6,577.5 734.5,577.4 731.5,577.2 728.5,577.1 725.5,577.0 722.4,576.8 719.4,576.7 716.4,576.5 713.4,576.4 710.3,576.2 707.3,576.0 704.3,575.9 701.3,575.7 698.3,575.5 695.2,575.4 692.2,575.2 689.2,575.0 686.2,574.8 683.1,574.6 680.1,574.4Z"/><path class="s" fill="#feb24c" d="M651.2,572.5 654.3,572.7 657.3,572.9 660.3,573.1 663.4,573.3 666.4,573.5 669.5,573.7 672.5,573.9 675.5,574.1 678.6,574.3 681.6,574.5 684.7,574.7 687.7,574.9 690.7,575.1 693.8,575.3 696.8,575.5 699.9,575.6 702.9,575.8 706.0,576.0 709.0,576.1 712.0,576.3 715.1,576.5 718.1,576.6 721.2,576.8 724.2,576.9 727.3,577.1 730.3,577.2 733.4,577.3 736.4,577.5 739.4,577.6 742.5,577.7 745.5,577.9 748.6,578.0 751.6,578.1 754.7,578.2 757.7,578.3 760.8,578.4 763.8,578.5 766.9,578.6 769.9,578.7 772.9,578.8 776.0,578.9 779.0,579.0 782.1,579.1 785.1,579.2 788.2,579.3 791.2,579.3 794.3,579.4 797.3,579.5 800.4,579.6 803.4,579.6 806.5,579.7 809.5,579.7 812.6,579.8 815.6,579.9 818.7,579.9 821.7,579.9 824.7,580.0 827.8,580.0 830.8,580.1 833.9,580.1 836.9,580.1 840.0,580.1 843.0,580.2 846.1,580.2 849.1,580.2 852.2,580.2 855.2,580.2 858.3,580.2 861.3,580.2 864.4,580.2 867.4,580.2 870.5,580.2 873.5,580.2 876.6,580.2 879.6,580.2 882.7,580.2 885.7,580.1 888.7,580.1 891.8,580.1 894.8,580.0 897.9,580.0 900.9,580.0 904.0,579.9 904.3,599.2 910.7,641.8 910.3,709.2 907.7,707.8 905.3,706.1 902.7,704.8 900.0,703.8 897.4,702.7 894.6,702.1 892.0,701.0 889.6,699.5 887.4,698.0 885.0,697.8 882.5,698.1 880.1,698.8 877.6,699.4 875.1,699.3 872.4,698.5 869.8,698.6 867.4,699.5 865.0,700.1 862.5,700.6 860.0,701.1 857.6,702.3 855.1,703.3 852.4,703.8 850.0,704.0 847.7,703.4 844.6,703.8 842.0,703.0 839.7,701.5 837.1,700.5 834.8,698.9 832.2,696.4 829.3,699.3 827.8,703.5 824.5,703.0 822.6,700.5 820.5,698.3 818.0,697.4 815.4,697.0 812.7,696.4 810.0,696.0 807.4,696.3 804.9,696.7 802.4,697.8 800.8,695.5 799.0,693.5 796.7,692.0 794.9,690.1 792.5,689.7 790.1,688.6 787.6,688.3 785.0,688.8 782.6,688.3 780.2,687.7 777.5,688.1 774.8,687.8 772.6,686.0 770.2,685.2 767.5,685.2 765.0,684.3 762.7,683.5 761.1,681.1 759.7,678.3 758.0,675.3 755.0,675.0 752.5,674.6 750.0,675.1 747.5,676.0 745.4,674.3 742.8,673.5 740.1,672.9 737.7,671.6 740.8,596.9 737.8,596.8 734.7,596.7 731.7,596.5 728.7,596.4 725.6,596.3 722.6,596.1 719.6,596.0 716.5,595.8 713.5,595.7 710.5,595.5 707.4,595.3 704.4,595.2 701.4,595.0 698.3,594.8 695.3,594.7 692.2,594.5 689.2,594.3 686.2,594.1 683.1,593.9 680.1,593.7 677.1,593.5 674.1,593.4 671.0,593.2 668.0,593.0 665.0,592.7 661.9,592.5 658.9,592.3 655.9,592.1 652.8,591.9 649.8,591.7Z"/><path class="s" fill="#fed976" d="M649.8,591.7 652.8,591.9 655.9,592.1 658.9,592.3 661.9,592.5 665.0,592.7 668.0,593.0 671.0,593.2 674.1,593.4 677.1,593.5 680.1,593.7 683.1,593.9 686.2,594.1 689.2,594.3 692.2,594.5 695.3,594.7 698.3,594.8 701.4,595.0 704.4,595.2 707.4,595.3 710.5,595.5 713.5,595.7 716.5,595.8 719.6,596.0 722.6,596.1 725.6,596.3 728.7,596.4 731.7,596.5 734.7,596.7 737.8,596.8 740.8,596.9 737.7,671.6 740.1,672.9 742.8,673.5 745.4,674.3 747.5,676.0 750.0,675.1 752.5,674.6 755.0,675.0 758.0,675.3 759.7,678.3 761.1,681.1 762.7,683.5 765.0,684.3 767.5,685.2 770.2,685.2 772.6,686.0 774.8,687.8 777.5,688.1 780.2,687.7 782.6,688.3 785.0,688.8 787.6,688.3 790.1,688.6 792.5,689.7 794.9,690.1 796.7,692.0 799.0,693.5 800.8,695.5 802.4,697.8 804.9,696.7 807.4,696.3 810.0,696.0 812.7,696.4 815.4,697.0 818.0,697.4 820.5,698.3 822.6,700.5 824.5,703.0 827.8,703.5 829.3,699.3 832.2,696.4 834.8,698.9 837.1,700.5 839.7,701.5 842.0,703.0 844.6,703.8 847.7,703.4 850.0,704.0 852.4,703.8 855.1,703.3 857.6,702.3 860.0,701.1 862.5,700.6 865.0,700.1 867.4,699.5 869.8,698.6 872.4,698.5 875.1,699.3 877.6,699.4 880.1,698.8 882.5,698.1 885.0,697.8 887.4,698.0 889.6,699.5 892.0,701.0 894.6,702.1 897.4,702.7 900.0,703.8 902.7,704.8 905.3,706.1 907.7,707.8 910.3,709.2 924.2,712.4 924.6,732.8 925.5,772.3 927.7,774.1 929.9,776.0 931.8,778.0 932.5,780.4 934.0,782.7 936.1,784.8 937.3,787.2 937.9,789.9 938.1,792.6 938.1,795.3 939.0,797.7 940.4,800.0 941.7,802.4 942.0,804.9 941.4,807.5 941.4,810.1 942.5,812.5 943.0,815.0 942.5,817.5 942.2,820.0 942.5,822.6 942.3,825.1 941.5,827.5 941.1,830.0 939.8,832.4 938.7,834.9 938.0,837.5 937.1,840.0 936.9,842.7 937.4,845.6 936.7,848.2 935.1,850.4 934.5,852.8 933.6,855.2 932.5,857.5 915.0,862.5 905.0,867.5 890.0,882.5 870.0,895.0 850.0,906.2 835.0,918.7 825.0,930.0 817.5,942.5 813.7,960.0 817.5,980.0 821.2,1000.0 818.0,1001.7 815.0,1003.5 812.3,1003.7 809.8,1003.0 807.5,1001.7 805.3,1000.0 802.8,999.3 800.0,999.5 797.5,998.9 795.0,998.3 792.3,998.0 789.8,996.9 787.4,995.7 785.1,994.0 783.0,992.1 780.2,991.7 777.1,991.9 774.9,990.3 773.4,987.7 771.2,986.5 768.8,985.7 766.6,984.4 764.2,983.6 761.6,983.1 759.3,982.0 756.8,980.7 755.6,978.1 754.6,975.8 752.7,973.9 751.6,971.6 751.7,968.6 750.7,966.2 749.0,964.3 748.3,961.8 746.9,959.7 745.8,957.5 745.4,955.0 744.5,952.6 743.5,950.2 742.5,947.8 742.3,945.2 743.2,942.4 743.0,939.8 740.2,938.3 738.4,936.2 737.3,933.5 735.3,931.5 733.2,929.6 731.5,927.4 729.9,925.1 729.4,922.4 728.4,920.0 727.1,917.8 725.7,915.6 723.4,914.0 721.8,911.9 721.6,909.1 721.3,906.3 720.2,903.9 718.6,901.9 716.6,899.8 715.1,897.4 714.3,894.7 713.4,892.0 712.4,889.4 710.8,887.0 708.9,884.8 707.0,882.5 704.9,880.4 703.6,877.8 703.0,874.7 700.9,873.1 698.1,872.2 696.3,870.5 695.1,868.2 693.5,866.1 691.5,864.6 690.0,862.5 689.1,860.1 687.1,858.4 685.7,856.4 684.6,854.1 682.6,852.4 679.9,852.4 677.4,851.7 675.2,850.1 672.7,849.5 670.0,849.9 667.4,849.5 665.0,848.8 662.6,847.6 660.0,847.3 657.5,846.8 654.9,845.4 652.3,846.7 649.8,847.6 647.2,848.4 645.0,850.2 642.4,851.1 640.1,853.0 638.4,855.3 636.3,857.3 634.1,859.3 632.5,861.9 631.1,864.4 629.7,867.0 628.9,870.0 628.0,873.1 625.3,874.3 622.5,875.0 620.0,876.0 617.7,874.9 615.3,873.9 613.1,872.6 611.2,870.6 609.4,868.7 606.9,867.8 604.1,867.4 602.0,865.7 600.5,863.3 598.3,861.7 596.0,860.3 593.8,858.8 591.5,857.4 590.0,855.0 588.8,852.3 586.2,850.8 584.0,849.0 582.8,846.2 581.0,844.0 578.5,842.3 577.1,839.8 575.9,837.5 575.9,834.8 576.4,832.0 576.2,829.4 576.1,826.5 574.9,823.6 572.8,821.5 570.1,819.7 568.5,817.3 567.6,814.4 565.5,812.4 563.4,810.8 562.0,808.5 560.4,806.5 558.5,804.7 556.6,802.9 554.6,801.2 553.4,798.8 552.4,796.1 550.3,794.5 548.6,792.5 547.3,790.1 545.9,787.9 544.6,785.4 542.9,783.4 540.5,782.1 538.7,780.2 537.2,778.0 535.3,776.1 533.5,774.1 532.5,771.6 531.2,769.4 529.6,767.4 527.4,765.7 525.1,764.0 522.9,762.2 521.0,753.5 524.2,753.8 527.5,754.2 530.7,754.5 534.0,754.9 537.3,755.2 540.5,755.6 543.8,755.9 547.0,756.3 550.3,756.6 553.5,756.9 556.8,757.3 560.1,757.6 563.3,757.9 566.6,758.2 569.9,758.5 573.1,758.8 576.4,759.2 579.6,759.5 582.9,759.8 586.2,760.1 589.4,760.4 592.7,760.6 596.0,760.9 599.2,761.2 602.5,761.5 605.7,761.8 609.0,762.0 612.3,762.3 615.5,762.6 618.8,762.8 622.1,763.1 625.3,763.4 628.6,763.6 631.9,763.9 635.1,764.1Z"/><path class="s" fill="#fed976" d="M831.1,120.6 833.8,120.6 836.4,120.6 839.1,120.7 841.7,120.7 844.3,120.7 847.0,120.7 849.6,120.7 852.2,120.7 854.9,120.8 857.5,120.8 860.1,120.8 862.8,120.8 865.4,120.8 868.1,120.8 870.7,120.7 873.3,120.7 876.0,120.7 878.6,120.7 881.2,120.7 883.9,120.7 883.7,106.4 886.0,107.5 888.8,107.2 892.6,108.4 894.4,114.5 896.5,122.9 896.8,130.6 900.7,132.0 904.9,131.7 910.0,134.5 920.0,137.5 935.0,135.0 947.5,138.7 957.5,145.0 970.0,150.0 980.0,153.7 992.5,147.5 1005.0,151.2 1020.0,152.5 1028.7,153.7 1012.5,162.5 995.0,175.0 980.0,190.0 967.5,202.5 963.7,206.2 963.7,208.9 963.3,211.5 963.1,214.2 962.9,216.8 962.4,219.4 961.3,222.0 961.2,224.7 962.1,227.4 961.8,230.3 958.7,231.1 956.3,232.4 954.8,234.9 952.8,236.5 950.5,238.0 949.0,240.1 948.8,242.8 948.0,245.1 947.4,247.6 947.5,250.1 948.8,252.5 949.2,255.0 948.8,257.6 948.8,260.0 948.7,262.4 949.2,265.0 949.3,267.5 948.3,269.9 947.6,272.4 947.9,275.2 950.4,277.4 951.9,280.0 952.5,283.1 954.4,285.6 957.5,285.8 960.1,286.7 961.9,288.5 963.7,290.5 966.0,291.6 968.3,292.9 969.9,295.1 971.5,297.2 974.0,298.2 976.7,298.9 978.8,300.5 980.5,302.3 982.4,303.9 984.6,305.2 986.7,306.6 988.7,308.4 990.4,311.2 992.3,313.7 993.9,316.7 993.3,320.3 993.5,323.5 994.0,326.8 991.2,326.9 988.4,327.0 985.7,327.2 982.9,327.3 980.1,327.4 977.4,327.6 974.6,327.7 971.8,327.8 969.1,327.9 966.3,328.0 963.5,328.1 960.8,328.2 958.0,328.3 955.2,328.4 952.5,328.5 949.7,328.6 946.9,328.7 944.1,328.8 941.4,328.9 938.6,329.0 935.8,329.1 933.1,329.1 930.3,329.2 927.5,329.3 924.7,329.3 922.0,329.4 919.2,329.5 916.4,329.5 913.7,329.6 910.9,329.6 908.1,329.7 905.4,329.7 902.6,329.8 899.8,329.8 897.0,329.9 894.3,329.9 891.5,329.9 888.7,330.0 886.0,330.0 883.2,330.0 880.4,330.0 877.6,330.0 874.9,330.1 872.1,330.1 869.3,330.1 866.6,330.1 863.8,330.1 861.0,330.1 858.2,330.1 855.5,330.1 852.7,330.1 849.9,330.1 850.0,260.0 843.7,250.0 847.4,236.7 847.1,233.4 847.1,230.0 846.8,227.5 846.2,225.1 845.9,222.6 845.8,220.1 845.8,217.5 845.9,215.0 845.5,212.5 844.5,210.1 843.5,207.7 842.9,205.3 842.7,202.8 842.4,200.2 842.5,197.6 842.8,194.9 841.7,192.6 840.1,190.3 840.0,187.7 840.5,185.0 839.9,182.5 838.7,180.1 838.2,177.7 838.0,175.1 838.0,172.6 838.1,170.0 837.3,167.6 836.8,165.1 837.3,162.5 837.4,160.0 837.3,157.4 837.1,154.9 836.4,152.4 835.8,150.0 835.5,147.5 834.8,145.0 834.8,142.4 835.0,139.9 834.1,137.4 833.1,134.7 832.5,131.9 831.5,129.2 831.5,126.3 831.5,123.4Z"/><path class="s" fill="#feb24c" d="M963.7,206.2 980.0,200.0 995.0,196.2 1000.0,192.5 997.5,207.5 1010.0,208.7 1013.7,210.0 1027.5,217.5 1045.0,221.2 1060.0,225.9 1071.5,228.8 1079.2,235.5 1082.1,241.3 1081.1,249.0 1085.9,250.9 1087.9,257.6 1088.8,260.5 1084.0,267.2 1081.1,274.0 1080.2,280.7 1083.1,279.7 1087.9,271.1 1091.7,268.2 1094.6,267.2 1096.5,261.5 1100.3,253.8 1102.3,250.0 1105.1,246.1 1108.0,244.2 1102.3,257.6 1098.4,266.3 1095.5,273.0 1093.6,281.7 1092.7,291.3 1091.7,300.0 1090.0,325.0 1090.5,345.0 1091.3,359.0 1088.5,358.8 1085.7,359.1 1082.8,359.3 1080.0,359.5 1077.2,359.8 1074.3,360.0 1071.5,360.2 1068.7,360.4 1065.9,360.7 1063.0,360.9 1060.2,361.1 1057.4,361.3 1054.6,361.5 1051.7,361.7 1048.9,361.9 1046.1,362.1 1043.2,362.3 1040.4,362.5 1037.6,362.7 1034.7,362.9 1031.9,363.0 1029.1,363.2 1026.3,363.4 1023.4,363.6 1020.6,363.7 1017.8,363.9 1014.9,364.1 1012.1,364.2 1009.9,362.2 1007.3,360.6 1005.3,358.9 1004.1,356.2 1002.6,353.7 1000.8,352.3 999.4,350.1 998.0,347.4 996.8,344.8 996.8,342.2 996.6,339.3 996.0,336.7 995.5,334.4 995.9,331.6 995.2,329.1 994.0,326.8 993.5,323.5 993.3,320.3 993.9,316.7 992.3,313.7 990.4,311.2 988.7,308.4 986.7,306.6 984.6,305.2 982.4,303.9 980.5,302.3 978.8,300.5 976.7,298.9 974.0,298.2 971.5,297.2 969.9,295.1 968.3,292.9 966.0,291.6 963.7,290.5 961.9,288.5 960.1,286.7 957.5,285.8 954.4,285.6 952.5,283.1 951.9,280.0 950.4,277.4 947.9,275.2 947.6,272.4 948.3,269.9 949.3,267.5 949.2,265.0 948.7,262.4 948.8,260.0 948.8,257.6 949.2,255.0 948.8,252.5 947.5,250.1 947.4,247.6 948.0,245.1 948.8,242.8 949.0,240.1 950.5,238.0 952.8,236.5 954.8,234.9 956.3,232.4 958.7,231.1 961.8,230.3 962.1,227.4 961.2,224.7 961.3,222.0 962.4,219.4 962.9,216.8 963.1,214.2 963.3,211.5 963.7,208.9Z"/><path class="s" fill="#feb24c" d="M849.9,330.1 852.7,330.1 855.5,330.1 858.2,330.1 861.0,330.1 863.8,330.1 866.6,330.1 869.3,330.1 872.1,330.1 874.9,330.1 877.6,330.0 880.4,330.0 883.2,330.0 886.0,330.0 888.7,330.0 891.5,329.9 894.3,329.9 897.0,329.9 899.8,329.8 902.6,329.8 905.4,329.7 908.1,329.7 910.9,329.6 913.7,329.6 916.4,329.5 919.2,329.5 922.0,329.4 924.7,329.3 927.5,329.3 930.3,329.2 933.1,329.1 935.8,329.1 938.6,329.0 941.4,328.9 944.1,328.8 946.9,328.7 949.7,328.6 952.5,328.5 955.2,328.4 958.0,328.3 960.8,328.2 963.5,328.1 966.3,328.0 969.1,327.9 971.8,327.8 974.6,327.7 977.4,327.6 980.1,327.4 982.9,327.3 985.7,327.2 988.4,327.0 991.2,326.9 994.0,326.8 995.2,329.1 995.9,331.6 995.5,334.4 996.0,336.7 996.6,339.3 996.8,342.2 996.8,344.8 998.0,347.4 999.4,350.1 1000.8,352.3 1002.6,353.7 1004.1,356.2 1005.3,358.9 1007.3,360.6 1009.9,362.2 1012.1,364.2 1016.2,366.8 1017.9,368.7 1020.1,370.4 1021.2,372.8 1022.4,375.3 1024.4,377.2 1026.5,379.1 1028.5,381.4 1027.7,384.3 1026.3,386.9 1025.4,389.5 1024.7,392.4 1024.2,395.5 1023.0,398.3 1020.1,399.7 1017.6,402.0 1015.0,404.1 1012.2,404.3 1009.5,404.5 1006.9,405.1 1004.3,406.3 1003.6,409.8 1003.1,413.1 1004.9,415.0 1006.5,417.1 1007.9,419.7 1006.7,422.6 1005.7,425.1 1004.4,427.4 1002.9,429.8 1001.6,432.2 1000.3,434.7 998.5,436.8 996.9,439.0 995.3,441.4 994.8,444.3 994.6,447.2 991.3,443.1 985.0,439.5 982.1,439.7 979.2,439.8 976.3,439.9 973.4,440.0 970.5,440.2 967.6,440.3 964.7,440.4 961.8,440.5 958.9,440.6 956.0,440.7 953.1,440.8 950.2,440.9 947.3,441.0 944.4,441.1 941.5,441.2 938.6,441.2 935.7,441.3 932.8,441.4 929.9,441.5 927.0,441.5 924.1,441.6 921.2,441.7 918.3,441.7 915.4,441.8 912.5,441.8 909.6,441.9 906.7,441.9 903.8,442.0 900.9,442.0 898.0,442.1 895.1,442.1 892.2,442.1 889.3,442.2 886.4,442.2 883.4,442.2 880.5,442.2 877.6,442.3 874.7,442.3 871.8,442.3 870.7,443.1 868.9,439.9 867.7,436.5 867.9,433.5 867.3,430.6 866.1,427.8 866.2,424.8 866.6,421.8 865.7,419.0 864.6,416.1 864.6,413.2 863.7,410.8 862.5,408.4 862.6,405.6 862.0,403.1 860.2,400.8 859.7,398.4 860.8,395.6 860.5,393.1 859.0,390.7 858.7,388.0 858.6,385.3 857.8,382.7 856.6,380.0 855.1,377.3 853.3,374.9 851.3,373.0 850.2,370.5 849.0,368.2 847.2,365.0 845.7,361.6 846.4,358.2 847.0,354.8 848.1,352.1 848.5,349.2 849.5,346.6 849.8,343.8 848.7,341.1 848.4,338.3 849.4,335.6 849.5,332.8Z"/><path class="s" fill="#fd8d3c" d="M870.7,443.1 871.8,442.3 874.7,442.3 877.6,442.3 880.5,442.2 883.4,442.2 886.4,442.2 889.3,442.2 892.2,442.1 895.1,442.1 898.0,442.1 900.9,442.0 903.8,442.0 906.7,441.9 909.6,441.9 912.5,441.8 915.4,441.8 918.3,441.7 921.2,441.7 924.1,441.6 927.0,441.5 929.9,441.5 932.8,441.4 935.7,441.3 938.6,441.2 941.5,441.2 944.4,441.1 947.3,441.0 950.2,440.9 953.1,440.8 956.0,440.7 958.9,440.6 961.8,440.5 964.7,440.4 967.6,440.3 970.5,440.2 973.4,440.0 976.3,439.9 979.2,439.8 982.1,439.7 985.0,439.5 991.3,443.1 994.6,447.2 994.4,450.3 994.2,453.4 994.0,456.4 994.4,458.7 994.7,461.3 994.5,463.9 994.6,466.4 995.4,469.8 996.3,473.2 1000.1,474.9 1001.7,477.3 1004.0,479.0 1006.7,480.3 1008.5,482.5 1010.6,484.5 1012.2,486.6 1012.8,489.3 1013.8,491.8 1015.3,493.9 1016.4,496.2 1017.7,498.4 1019.6,500.3 1022.1,502.9 1024.4,506.3 1027.5,506.0 1030.0,504.3 1033.1,504.5 1031.7,507.4 1031.9,510.0 1033.1,512.6 1033.0,515.1 1032.2,517.6 1031.8,519.8 1033.4,522.1 1034.7,524.7 1035.3,527.7 1036.0,530.6 1037.3,533.2 1039.5,535.4 1042.6,536.0 1044.5,537.9 1045.8,540.6 1048.1,542.0 1050.8,542.9 1052.7,544.7 1053.6,547.6 1055.1,549.9 1057.3,551.4 1059.1,552.9 1059.1,555.1 1059.6,557.6 1060.1,560.0 1060.0,562.6 1059.9,565.1 1059.8,568.2 1062.8,570.1 1065.4,571.6 1067.5,573.7 1068.0,582.0 1068.5,590.0 1061.2,593.7 1057.5,602.5 1055.0,611.2 1036.2,612.5 1043.7,602.5 1040.0,594.0 1036.9,594.2 1033.8,594.4 1030.7,594.6 1027.7,594.8 1024.6,594.9 1021.5,595.1 1018.4,595.3 1015.3,595.4 1012.3,595.6 1009.2,595.8 1006.1,595.9 1003.0,596.1 999.9,596.2 996.8,596.4 993.8,596.5 990.7,596.6 987.6,596.8 984.5,596.9 981.4,597.0 978.3,597.2 975.2,597.3 972.2,597.4 969.1,597.5 966.0,597.6 962.9,597.7 959.8,597.9 956.7,598.0 953.6,598.1 950.6,598.1 947.5,598.2 944.4,598.3 941.3,598.4 938.2,598.5 935.1,598.6 932.0,598.7 929.0,598.7 925.9,598.8 922.8,598.9 919.7,598.9 916.6,599.0 913.5,599.0 910.4,599.1 907.4,599.1 904.3,599.2 904.0,579.9 903.1,499.0 901.4,497.1 899.7,495.2 898.1,493.0 895.7,491.6 894.1,489.4 893.4,486.4 891.8,484.3 890.2,482.7 891.6,480.4 892.6,477.5 893.9,474.4 891.2,471.7 888.3,469.5 885.6,468.2 883.1,466.5 881.0,464.0 879.3,461.6 877.4,459.3 876.4,456.4 875.5,452.7 873.4,449.6 872.0,446.4Z"/><path class="s" fill="#feb24c" d="M904.3,599.2 907.4,599.1 910.4,599.1 913.5,599.0 916.6,599.0 919.7,598.9 922.8,598.9 925.9,598.8 929.0,598.7 932.0,598.7 935.1,598.6 938.2,598.5 941.3,598.4 944.4,598.3 947.5,598.2 950.6,598.1 953.6,598.1 956.7,598.0 959.8,597.9 962.9,597.7 966.0,597.6 969.1,597.5 972.2,597.4 975.2,597.3 978.3,597.2 981.4,597.0 984.5,596.9 987.6,596.8 990.7,596.6 993.8,596.5 996.8,596.4 999.9,596.2 1003.0,596.1 1006.1,595.9 1009.2,595.8 1012.3,595.6 1015.3,595.4 1018.4,595.3 1021.5,595.1 1024.6,594.9 1027.7,594.8 1030.7,594.6 1033.8,594.4 1036.9,594.2 1040.0,594.0 1043.7,602.5 1036.2,612.5 1055.0,611.2 1054.9,614.2 1055.0,617.2 1054.1,620.1 1052.3,622.4 1051.0,624.9 1049.3,627.1 1047.8,629.6 1046.5,632.4 1044.7,634.9 1044.1,637.4 1043.3,639.9 1042.2,642.3 1042.0,644.9 1041.6,648.5 1040.5,652.0 1038.6,653.8 1036.7,655.5 1034.1,657.0 1033.0,659.6 1032.7,662.3 1033.1,665.2 1032.3,668.0 1030.1,670.1 1027.3,671.8 1026.2,674.4 1025.9,677.3 1024.9,680.0 1023.9,682.6 1022.7,685.1 1021.6,687.7 1020.7,690.4 1018.9,692.6 1017.3,694.8 1016.7,697.4 1017.1,700.2 1017.3,703.0 1016.1,705.0 1015.2,707.6 1015.7,710.1 1017.0,712.5 1018.2,714.9 1018.7,717.6 1017.7,720.1 1016.3,722.6 1016.6,725.1 1016.5,727.7 1016.5,730.2 1013.2,730.4 1010.0,730.6 1006.7,730.7 1003.4,730.9 1000.1,731.0 996.8,731.2 993.6,731.3 990.3,731.5 987.0,731.6 983.7,731.7 980.4,731.9 977.2,732.0 973.9,732.1 970.6,732.2 967.3,732.3 964.0,732.5 960.8,732.6 957.5,732.7 954.2,732.8 950.9,732.9 947.6,733.0 944.4,733.1 941.1,733.1 937.8,733.2 934.5,733.3 931.2,733.4 927.9,733.5 924.7,733.5 924.2,712.4 910.3,709.2 910.7,641.8 904.3,599.2Z"/><path class="s" fill="#ffffb2" d="M924.7,733.5 927.9,733.5 931.2,733.4 934.5,733.3 937.8,733.2 941.1,733.1 944.4,733.1 947.6,733.0 950.9,732.9 954.2,732.8 957.5,732.7 960.8,732.6 964.0,732.5 967.3,732.3 970.6,732.2 973.9,732.1 977.2,732.0 980.4,731.9 983.7,731.7 987.0,731.6 990.3,731.5 993.6,731.3 996.8,731.2 1000.1,731.0 1003.4,730.9 1006.7,730.7 1010.0,730.6 1013.2,730.4 1016.5,730.2 1017.4,732.7 1017.7,735.3 1018.2,737.9 1019.1,740.3 1020.2,742.7 1021.8,745.0 1022.6,747.5 1023.9,749.8 1025.3,752.1 1025.4,755.0 1023.5,757.3 1022.2,759.6 1022.3,762.3 1023.1,765.3 1022.1,767.8 1020.5,769.8 1018.7,771.6 1016.8,773.2 1015.4,775.2 1015.1,778.0 1013.6,780.3 1011.1,782.2 1010.4,784.8 1010.0,787.6 1008.4,789.9 1008.0,792.7 1007.6,795.5 1006.3,798.1 1006.1,800.9 1006.1,803.8 1005.5,806.5 1066.5,803.6 1067.1,806.3 1067.4,809.1 1067.5,811.9 1068.2,814.7 1068.8,817.4 1069.3,820.1 1070.1,822.8 1070.6,825.6 1071.8,828.1 1072.9,830.7 1074.1,833.2 1076.2,836.0 1079.7,838.1 1079.7,841.6 1077.6,844.4 1074.8,848.6 1079.7,851.4 1083.9,845.8 1086.7,838.1 1088.0,842.0 1089.0,850.0 1086.0,856.0 1083.2,862.6 1089.5,864.0 1095.1,868.2 1094.4,872.4 1089.5,876.6 1086.7,871.0 1081.1,868.2 1074.1,865.4 1070.6,864.0 1067.1,861.2 1060.0,858.4 1056.5,859.8 1060.0,864.0 1058.0,869.6 1053.0,872.4 1049.5,866.8 1044.6,868.2 1040.4,874.5 1034.8,878.0 1029.2,874.5 1023.6,869.6 1016.6,864.0 1011.0,859.8 1007.5,854.2 1001.2,852.1 997.0,852.1 990.0,855.0 977.5,860.5 960.0,856.1 950.0,855.0 932.5,857.5 933.6,855.2 934.5,852.8 935.1,850.4 936.7,848.2 937.4,845.6 936.9,842.7 937.1,840.0 938.0,837.5 938.7,834.9 939.8,832.4 941.1,830.0 941.5,827.5 942.3,825.1 942.5,822.6 942.2,820.0 942.5,817.5 943.0,815.0 942.5,812.5 941.4,810.1 941.4,807.5 942.0,804.9 941.7,802.4 940.4,800.0 939.0,797.7 938.1,795.3 938.1,792.6 937.9,789.9 937.3,787.2 936.1,784.8 934.0,782.7 932.5,780.4 931.8,778.0 929.9,776.0 927.7,774.1 925.5,772.3 924.6,732.8Z"/><path class="s" fill="#ffffb2" d="M1040.5,652.0 1041.7,651.8 1044.8,651.6 1047.9,651.4 1051.0,651.2 1054.1,651.0 1057.2,650.8 1060.4,650.6 1063.5,650.4 1066.6,650.2 1069.7,650.0 1072.8,649.7 1075.9,649.5 1079.0,649.3 1082.1,649.1 1085.2,648.8 1088.3,648.6 1091.4,648.3 1094.5,648.1 1097.6,647.9 1100.7,647.6 1103.8,647.3 1107.5,700.0 1106.5,755.0 1106.5,775.0 1111.8,824.0 1102.1,824.1 1093.7,822.7 1086.7,824.8 1080.4,826.2 1076.0,830.0 1074.1,833.2 1072.9,830.7 1071.8,828.1 1070.6,825.6 1070.1,822.8 1069.3,820.1 1068.8,817.4 1068.2,814.7 1067.5,811.9 1067.4,809.1 1067.1,806.3 1066.5,803.6 1005.5,806.5 1006.1,803.8 1006.1,800.9 1006.3,798.1 1007.6,795.5 1008.0,792.7 1008.4,789.9 1010.0,787.6 1010.4,784.8 1011.1,782.2 1013.6,780.3 1015.1,778.0 1015.4,775.2 1016.8,773.2 1018.7,771.6 1020.5,769.8 1022.1,767.8 1023.1,765.3 1022.3,762.3 1022.2,759.6 1023.5,757.3 1025.4,755.0 1025.3,752.1 1023.9,749.8 1022.6,747.5 1021.8,745.0 1020.2,742.7 1019.1,740.3 1018.2,737.9 1017.7,735.3 1017.4,732.7 1016.5,730.2 1016.5,727.7 1016.6,725.1 1016.3,722.6 1017.7,720.1 1018.7,717.6 1018.2,714.9 1017.0,712.5 1015.7,710.1 1015.2,707.6 1016.1,705.0 1017.3,703.0 1017.1,700.2 1016.7,697.4 1017.3,694.8 1018.9,692.6 1020.7,690.4 1021.6,687.7 1022.7,685.1 1023.9,682.6 1024.9,680.0 1025.9,677.3 1026.2,674.4 1027.3,671.8 1030.1,670.1 1032.3,668.0 1033.1,665.2 1032.7,662.3 1033.0,659.6 1034.1,657.0 1036.7,655.5 1038.6,653.8Z"/><path class="s" fill="#ffffb2" d="M1103.8,647.3 1106.9,647.1 1110.0,646.8 1113.1,646.6 1116.2,646.3 1119.3,646.0 1122.4,645.8 1125.5,645.5 1128.5,645.2 1131.6,644.9 1134.7,644.6 1137.8,644.4 1140.9,644.1 1144.0,643.8 1147.1,643.5 1150.1,643.2 1153.2,642.9 1156.3,642.6 1159.4,642.2 1162.5,641.9 1165.6,641.6 1168.6,641.3 1171.7,641.0 1174.8,640.6 1177.9,640.3 1181.0,640.0 1184.1,639.6 1200.0,690.0 1200.9,692.5 1201.7,695.0 1201.9,697.8 1202.6,700.3 1203.9,702.7 1204.9,705.2 1205.5,707.8 1206.4,710.3 1208.0,712.5 1209.6,714.8 1209.8,717.5 1209.9,720.3 1211.2,722.6 1212.5,725.0 1213.6,727.4 1214.9,729.8 1215.5,732.4 1215.7,735.1 1216.8,737.5 1217.6,740.1 1217.9,742.5 1217.6,744.9 1217.6,747.6 1217.2,750.2 1215.9,752.6 1215.1,755.0 1215.4,757.5 1215.2,760.1 1215.6,762.6 1216.2,765.1 1216.5,767.6 1216.9,770.1 1216.9,772.6 1217.5,775.1 1218.6,777.5 1218.7,780.1 1218.3,782.7 1219.5,785.1 1220.1,787.6 1220.3,790.1 1216.9,790.5 1213.5,790.9 1210.2,791.3 1206.8,791.7 1203.4,792.0 1200.0,792.4 1196.7,792.8 1193.3,793.1 1189.9,793.5 1186.6,793.9 1183.2,794.2 1179.8,794.6 1176.4,794.9 1173.1,795.2 1169.7,795.6 1166.3,795.9 1162.9,796.2 1159.6,796.6 1156.2,796.9 1152.8,797.2 1149.4,797.5 1146.1,797.8 1142.7,798.2 1139.3,798.5 1135.9,798.8 1141.0,822.5 1129.3,824.0 1127.8,813.8 1122.0,810.9 1122.0,822.5 1111.8,824.0 1106.5,775.0 1106.5,755.0 1107.5,700.0Z"/><path class="s" fill="#feb24c" d="M1184.1,639.6 1187.1,639.3 1190.2,639.0 1193.3,638.6 1196.4,638.3 1199.5,637.9 1202.5,637.6 1205.6,637.2 1208.7,636.8 1211.8,636.5 1214.8,636.1 1217.9,635.7 1221.0,635.3 1224.1,635.0 1227.2,634.6 1230.2,634.2 1233.3,633.8 1236.4,633.4 1239.5,633.0 1242.5,632.6 1245.6,632.2 1248.7,631.8 1251.7,631.4 1254.8,631.0 1257.9,630.6 1261.0,630.2 1260.2,632.8 1259.2,635.4 1257.8,637.7 1256.3,640.0 1258.7,641.2 1260.9,642.6 1262.8,644.7 1264.9,646.4 1267.3,647.6 1269.5,649.1 1271.5,650.9 1273.8,652.4 1276.0,654.1 1277.4,656.6 1278.8,658.9 1280.2,661.2 1282.0,663.2 1283.5,665.4 1284.3,668.2 1285.7,670.5 1288.0,671.9 1290.4,673.3 1292.6,675.3 1295.1,676.8 1297.3,678.9 1299.8,680.3 1302.0,682.0 1303.5,684.5 1305.5,686.5 1307.8,688.2 1309.9,690.1 1312.1,691.4 1314.0,693.0 1315.7,694.9 1317.7,696.4 1320.1,697.4 1321.5,699.6 1322.5,702.0 1323.9,704.2 1325.3,706.4 1326.6,708.6 1327.9,710.8 1329.2,713.1 1331.3,714.9 1333.2,716.8 1335.4,718.4 1337.3,720.3 1338.6,722.7 1340.0,725.0 1341.8,727.0 1343.9,728.7 1346.2,730.0 1342.5,742.5 1338.7,755.0 1336.2,767.5 1337.5,776.0 1336.5,781.7 1322.0,783.5 1317.5,790.0 1316.5,799.0 1313.2,794.5 1226.1,800.6 1220.3,790.1 1220.1,787.6 1219.5,785.1 1218.3,782.7 1218.7,780.1 1218.6,777.5 1217.5,775.1 1216.9,772.6 1216.9,770.1 1216.5,767.6 1216.2,765.1 1215.6,762.6 1215.2,760.1 1215.4,757.5 1215.1,755.0 1215.9,752.6 1217.2,750.2 1217.6,747.6 1217.6,744.9 1217.9,742.5 1217.6,740.1 1216.8,737.5 1215.7,735.1 1215.5,732.4 1214.9,729.8 1213.6,727.4 1212.5,725.0 1211.2,722.6 1209.9,720.3 1209.8,717.5 1209.6,714.8 1208.0,712.5 1206.4,710.3 1205.5,707.8 1204.9,705.2 1203.9,702.7 1202.6,700.3 1201.9,697.8 1201.7,695.0 1200.9,692.5 1200.0,690.0 1184.1,639.6Z"/><path class="s" fill="#feb24c" d="M1135.9,798.8 1139.3,798.5 1142.7,798.2 1146.1,797.8 1149.4,797.5 1152.8,797.2 1156.2,796.9 1159.6,796.6 1162.9,796.2 1166.3,795.9 1169.7,795.6 1173.1,795.2 1176.4,794.9 1179.8,794.6 1183.2,794.2 1186.6,793.9 1189.9,793.5 1193.3,793.1 1196.7,792.8 1200.0,792.4 1203.4,792.0 1206.8,791.7 1210.2,791.3 1213.5,790.9 1216.9,790.5 1220.3,790.1 1226.1,800.6 1313.2,794.5 1316.5,799.0 1317.5,790.0 1322.0,783.5 1336.5,781.7 1342.4,793.4 1354.0,819.6 1368.6,843.0 1380.3,863.4 1389.1,883.8 1397.8,898.4 1406.6,915.9 1409.5,933.5 1411.0,956.8 1411.0,971.4 1406.6,980.2 1400.8,984.5 1389.1,988.9 1380.3,986.0 1374.5,974.3 1362.8,965.6 1351.1,956.8 1339.5,945.1 1333.6,933.5 1322.0,924.7 1313.2,910.1 1310.3,898.4 1307.3,886.8 1308.8,869.2 1304.4,854.6 1292.8,848.8 1281.1,837.1 1269.4,826.9 1257.7,821.1 1249.0,821.1 1240.2,828.4 1228.5,838.6 1216.9,838.6 1211.0,828.4 1199.3,821.1 1187.7,815.2 1176.0,813.8 1158.5,818.2 1141.0,822.5Z"/><path class="s" fill="#feb24c" d="M1068.5,590.0 1103.7,588.7 1105.0,583.0 1238.7,570.0 1295.3,563.3 1295.2,565.9 1295.2,568.5 1294.6,571.1 1294.5,573.5 1293.1,575.4 1291.8,577.8 1289.8,579.3 1286.9,580.0 1285.2,581.9 1284.2,584.5 1282.2,586.2 1280.2,587.8 1277.8,589.1 1275.3,590.1 1272.8,590.7 1270.3,591.5 1267.8,591.6 1265.8,593.3 1264.6,595.8 1263.5,598.3 1262.1,600.6 1260.3,602.9 1257.4,602.8 1254.9,603.2 1252.3,603.7 1249.7,604.4 1247.6,606.7 1245.1,608.2 1242.4,609.3 1239.7,610.5 1237.3,612.2 1235.9,614.6 1234.2,616.7 1231.9,618.1 1229.3,619.4 1227.5,621.4 1226.4,623.9 1224.8,626.1 1224.2,629.2 1224.0,632.3 1223.5,635.4 1220.3,635.4 1217.2,635.8 1214.1,636.2 1211.0,636.6 1207.8,636.9 1204.7,637.3 1201.6,637.7 1198.5,638.0 1195.3,638.4 1192.2,638.7 1189.1,639.1 1186.0,639.4 1182.8,639.8 1179.7,640.1 1176.6,640.5 1173.4,640.8 1170.3,641.1 1167.2,641.4 1164.0,641.8 1160.9,642.1 1157.8,642.4 1154.7,642.7 1151.5,643.0 1148.4,643.3 1145.3,643.6 1142.1,643.9 1139.0,644.2 1135.9,644.5 1132.7,644.8 1129.6,645.1 1126.5,645.4 1123.3,645.7 1120.2,646.0 1117.1,646.2 1113.9,646.5 1110.8,646.8 1107.6,647.0 1104.5,647.3 1101.4,647.5 1098.2,647.8 1095.1,648.1 1092.0,648.3 1088.8,648.5 1085.7,648.8 1082.6,649.0 1079.4,649.3 1076.3,649.5 1073.1,649.7 1070.0,649.9 1066.9,650.2 1063.7,650.4 1060.6,650.6 1057.4,650.8 1054.3,651.0 1051.2,651.2 1048.0,651.4 1044.9,651.6 1041.7,651.8 1040.5,652.0 1041.6,648.5 1042.0,644.9 1042.2,642.3 1043.3,639.9 1044.1,637.4 1044.7,634.9 1046.5,632.4 1047.8,629.6 1049.3,627.1 1051.0,624.9 1052.3,622.4 1054.1,620.1 1055.0,617.2 1054.9,614.2 1055.0,611.2 1057.5,602.5 1061.2,593.7Z"/><path class="s" fill="#f03b20" d="M1067.5,573.7 1070.0,571.7 1072.6,569.6 1075.1,567.6 1077.3,566.4 1079.6,565.0 1081.9,563.9 1084.1,562.4 1086.1,560.7 1088.4,559.7 1090.2,557.2 1092.5,555.0 1094.4,553.2 1095.7,551.1 1096.6,548.7 1097.4,546.3 1098.6,544.1 1100.0,542.0 1102.0,540.1 1104.1,538.3 1106.2,536.5 1108.0,534.4 1109.9,532.1 1112.7,531.8 1115.1,532.3 1117.6,533.1 1120.1,533.4 1122.5,534.3 1125.0,534.8 1127.5,535.0 1130.1,534.0 1132.5,532.5 1135.0,531.3 1137.8,530.4 1139.7,528.7 1141.2,526.6 1143.0,524.8 1145.2,523.6 1147.4,521.9 1150.2,522.4 1152.5,523.5 1154.9,523.0 1157.4,522.2 1159.7,521.9 1161.1,520.0 1163.2,518.2 1164.9,516.2 1166.4,514.0 1168.7,512.4 1170.7,510.4 1171.1,507.5 1171.6,504.8 1172.5,502.3 1173.3,499.7 1174.6,497.2 1177.6,496.4 1180.1,495.3 1182.3,493.4 1184.8,492.2 1187.0,490.3 1188.5,487.8 1189.6,485.0 1189.5,480.0 1192.1,479.4 1194.7,478.7 1197.1,477.0 1200.2,476.6 1201.6,479.6 1203.7,481.3 1205.9,482.9 1207.2,485.5 1209.7,486.6 1212.3,487.1 1214.8,488.0 1217.3,489.2 1219.6,490.8 1222.3,491.7 1225.0,492.4 1227.5,492.6 1230.0,491.7 1232.5,491.4 1235.0,492.8 1237.7,493.0 1240.0,490.9 1242.8,489.9 1245.6,488.7 1247.3,486.7 1250.1,489.9 1252.9,491.1 1255.4,492.9 1258.0,494.7 1260.5,496.5 1260.4,499.3 1260.6,502.2 1261.2,504.8 1262.7,506.8 1263.4,509.5 1264.0,512.4 1265.2,514.9 1266.8,517.2 1268.5,519.5 1271.1,520.9 1273.8,522.2 1275.9,523.9 1278.0,525.9 1280.0,528.3 1281.9,530.7 1283.8,532.4 1286.4,533.6 1288.3,535.4 1290.0,537.5 1287.5,538.3 1285.0,539.1 1282.3,539.4 1279.6,539.8 1277.1,540.9 1274.8,542.4 1272.5,543.7 1270.0,544.7 1267.6,545.9 1265.2,547.1 1262.7,547.8 1260.3,549.0 1258.0,550.4 1256.1,552.3 1254.3,554.3 1251.9,555.6 1249.8,557.2 1248.6,560.0 1247.2,562.5 1245.2,564.5 1242.7,566.1 1240.6,568.0 1238.7,570.0 1105.0,583.0 1103.7,588.7 1068.5,590.0 1068.0,582.0Z"/><path class="s" fill="#feb24c" d="M1091.3,358.6 1088.5,358.8 1085.7,359.1 1082.8,359.3 1080.0,359.5 1077.2,359.8 1074.3,360.0 1071.5,360.2 1068.7,360.4 1065.9,360.7 1063.0,360.9 1060.2,361.1 1057.4,361.3 1054.6,361.5 1051.7,361.7 1048.9,361.9 1046.1,362.1 1043.2,362.3 1040.4,362.5 1037.6,362.7 1034.7,362.9 1031.9,363.0 1029.1,363.2 1026.3,363.4 1023.4,363.6 1020.6,363.7 1017.8,363.9 1014.9,364.1 1012.1,364.2 1016.2,366.8 1017.9,368.7 1020.1,370.4 1021.2,372.8 1022.4,375.3 1024.4,377.2 1026.5,379.1 1028.5,381.4 1027.7,384.3 1026.3,386.9 1025.4,389.5 1024.7,392.4 1024.2,395.5 1023.0,398.3 1020.1,399.7 1017.6,402.0 1015.0,404.1 1012.2,404.3 1009.5,404.5 1006.9,405.1 1004.3,406.3 1003.6,409.8 1003.1,413.1 1004.9,415.0 1006.5,417.1 1007.9,419.7 1006.7,422.6 1005.7,425.1 1004.4,427.4 1002.9,429.8 1001.6,432.2 1000.3,434.7 998.5,436.8 996.9,439.0 995.3,441.4 994.8,444.3 994.6,447.2 994.4,450.3 994.2,453.4 994.0,456.4 994.4,458.7 994.7,461.3 994.5,463.9 994.6,466.4 995.4,469.8 996.3,473.2 1000.1,474.9 1001.7,477.3 1004.0,479.0 1006.7,480.3 1008.5,482.5 1010.6,484.5 1012.2,486.6 1012.8,489.3 1013.8,491.8 1015.3,493.9 1016.4,496.2 1017.7,498.4 1019.6,500.3 1022.1,502.9 1024.4,506.3 1027.5,506.0 1030.0,504.3 1033.1,504.5 1031.7,507.4 1031.9,510.0 1033.1,512.6 1033.0,515.1 1032.2,517.6 1031.8,519.8 1033.4,522.1 1034.7,524.7 1035.3,527.7 1036.0,530.6 1037.3,533.2 1039.5,535.4 1042.6,536.0 1044.5,537.9 1045.8,540.6 1048.1,542.0 1050.8,542.9 1052.7,544.7 1053.6,547.6 1055.1,549.9 1057.3,551.4 1059.1,552.9 1059.1,555.1 1059.6,557.6 1060.1,560.0 1060.0,562.6 1059.9,565.1 1059.8,568.2 1062.8,570.1 1065.4,571.6 1067.5,573.7 1070.0,571.7 1072.6,569.6 1075.1,567.6 1077.3,566.4 1079.6,565.0 1081.9,563.9 1084.1,562.4 1086.1,560.7 1088.4,559.7 1090.2,557.2 1092.5,555.0 1094.4,553.2 1095.7,551.1 1096.6,548.7 1097.4,546.3 1098.6,544.1 1100.0,542.0 1100.4,539.2 1101.2,536.4 1102.2,533.6 1101.8,530.7 1101.0,527.7 1101.4,524.7 1103.7,522.5 1105.8,520.4 1107.0,517.9 1107.8,515.2 1108.7,512.5 1109.6,509.9 1110.3,507.5 1110.5,505.0 1109.9,502.5 1110.0,500.0 1111.0,497.5 1111.7,495.0 1110.9,492.5 1110.0,490.1 1110.7,487.4 1110.6,484.8 1109.4,482.5 1109.0,480.0 1109.6,478.6 1101.4,386.2 1097.5,375.0 1093.0,365.0Z"/><path class="s" fill="#f03b20" d="M1101.4,386.2 1112.5,388.7 1122.5,383.7 1177.5,378.3 1189.5,480.0 1189.6,485.0 1188.5,487.8 1187.0,490.3 1184.8,492.2 1182.3,493.4 1180.1,495.3 1177.6,496.4 1174.6,497.2 1173.3,499.7 1172.5,502.3 1171.6,504.8 1171.1,507.5 1170.7,510.4 1168.7,512.4 1166.4,514.0 1164.9,516.2 1163.2,518.2 1161.1,520.0 1159.7,521.9 1157.4,522.2 1154.9,523.0 1152.5,523.5 1150.2,522.4 1147.4,521.9 1145.2,523.6 1143.0,524.8 1141.2,526.6 1139.7,528.7 1137.8,530.4 1135.0,531.3 1132.5,532.5 1130.1,534.0 1127.5,535.0 1125.0,534.8 1122.5,534.3 1120.1,533.4 1117.6,533.1 1115.1,532.3 1112.7,531.8 1109.9,532.1 1108.0,534.4 1106.2,536.5 1104.1,538.3 1102.0,540.1 1100.0,542.0 1100.4,539.2 1101.2,536.4 1102.2,533.6 1101.8,530.7 1101.0,527.7 1101.4,524.7 1103.7,522.5 1105.8,520.4 1107.0,517.9 1107.8,515.2 1108.7,512.5 1109.6,509.9 1110.3,507.5 1110.5,505.0 1109.9,502.5 1110.0,500.0 1111.0,497.5 1111.7,495.0 1110.9,492.5 1110.0,490.1 1110.7,487.4 1110.6,484.8 1109.4,482.5 1109.0,480.0 1109.6,478.6Z"/><path class="s" fill="#fd8d3c" d="M1177.5,378.3 1216.1,374.7 1225.0,367.5 1235.0,377.5 1240.0,382.5 1250.0,381.2 1262.5,377.5 1270.0,372.5 1280.0,362.5 1292.5,355.0 1296.5,353.0 1304.8,403.9 1303.2,406.1 1304.0,408.8 1304.7,411.6 1304.1,414.4 1303.8,417.2 1303.8,420.0 1304.1,422.8 1304.5,425.6 1304.1,428.4 1302.8,431.1 1302.1,433.8 1301.9,436.6 1302.0,439.4 1301.7,442.1 1301.5,444.8 1301.0,447.8 1298.7,450.4 1296.3,452.4 1293.4,454.1 1289.7,455.1 1286.2,456.5 1283.8,458.7 1281.2,461.0 1281.0,464.2 1280.8,467.2 1279.4,469.7 1278.6,472.3 1276.0,473.1 1274.0,473.6 1272.9,476.2 1271.4,478.7 1270.5,481.3 1269.1,484.1 1268.5,487.0 1266.0,488.2 1263.8,490.1 1262.1,492.5 1260.5,496.5 1258.0,494.7 1255.4,492.9 1252.9,491.1 1250.1,489.9 1247.3,486.7 1245.6,488.7 1242.8,489.9 1240.0,490.9 1237.7,493.0 1235.0,492.8 1232.5,491.4 1230.0,491.7 1227.5,492.6 1225.0,492.4 1222.3,491.7 1219.6,490.8 1217.3,489.2 1214.8,488.0 1212.3,487.1 1209.7,486.6 1207.2,485.5 1205.9,482.9 1203.7,481.3 1201.6,479.6 1200.2,476.6 1197.1,477.0 1194.7,478.7 1192.1,479.4 1189.5,480.0Z"/><path class="s" fill="#fd8d3c" d="M1122.5,383.7 1177.5,378.3 1216.1,374.7 1222.5,355.0 1230.0,342.5 1233.2,338.1 1237.4,333.1 1238.2,323.1 1233.2,313.1 1229.9,299.8 1224.9,288.2 1219.9,284.9 1209.9,289.8 1206.6,293.2 1201.6,301.5 1196.6,303.2 1194.1,296.5 1196.6,289.8 1201.6,286.5 1203.3,279.9 1207.5,269.9 1206.6,258.2 1201.6,249.9 1203.3,246.6 1198.3,238.3 1186.7,233.3 1170.0,231.0 1162.0,227.0 1157.0,225.9 1155.1,231.7 1154.1,237.5 1150.3,242.3 1146.5,246.1 1145.5,250.0 1142.6,251.9 1141.7,257.6 1136.8,255.7 1132.0,261.5 1128.2,269.2 1126.3,276.8 1125.3,286.5 1123.4,300.0 1123.7,312.5 1130.0,325.0 1135.0,340.0 1133.7,355.0 1127.5,372.5ZM1013.7,210.0 1032.5,200.0 1052.5,185.0 1070.0,171.2 1078.7,171.2 1062.5,182.5 1061.2,196.2 1070.0,192.5 1085.0,195.0 1095.0,205.0 1110.0,202.5 1120.0,196.2 1135.0,195.0 1151.2,190.0 1152.5,200.0 1170.0,197.5 1175.0,207.5 1187.5,210.0 1195.0,215.0 1182.5,216.2 1170.0,218.0 1160.0,223.0 1156.1,219.2 1151.3,216.3 1144.5,215.4 1139.7,216.3 1134.9,220.2 1129.2,221.1 1123.4,223.1 1119.6,224.0 1114.8,225.0 1111.9,228.8 1108.0,226.9 1105.1,231.7 1103.2,226.9 1100.3,230.7 1096.5,238.4 1091.7,246.1 1088.8,260.5 1087.9,257.6 1085.9,250.9 1081.1,249.0 1082.1,241.3 1079.2,235.5 1071.5,228.8 1060.0,225.9 1045.0,221.2 1027.5,217.5ZM1037.5,158.7 1045.0,152.0 1052.0,146.5 1057.5,143.7 1055.0,148.0 1046.0,155.0 1039.0,160.0Z"/><path class="s" fill="#bd0026" d="M1296.5,353.0 1306.5,346.4 1315.7,338.5 1317.4,348.7 1320.2,348.2 1323.0,347.7 1325.8,347.2 1328.5,346.8 1331.3,346.3 1334.1,345.8 1336.8,345.3 1339.6,344.8 1342.4,344.3 1345.2,343.8 1347.9,343.3 1350.7,342.7 1353.5,342.2 1356.2,341.7 1359.0,341.2 1361.8,340.7 1364.5,340.1 1367.3,339.6 1370.1,339.1 1372.8,338.5 1375.6,338.0 1378.4,337.5 1381.1,336.9 1383.9,336.4 1386.6,335.8 1389.4,335.3 1392.2,334.7 1394.9,334.1 1397.7,333.6 1400.4,333.0 1403.2,332.5 1406.0,331.9 1408.7,331.3 1411.5,330.7 1414.2,330.2 1417.0,329.6 1419.7,329.0 1422.5,328.4 1425.2,327.8 1428.0,327.2 1430.7,326.6 1433.5,326.0 1436.3,325.4 1439.0,324.8 1446.2,328.1 1452.9,333.1 1456.4,340.0 1462.2,346.6 1461.5,349.5 1460.4,352.3 1459.5,355.2 1459.4,358.2 1458.3,361.0 1457.2,363.8 1457.3,366.9 1457.3,369.9 1458.3,373.3 1459.5,376.7 1461.3,379.9 1463.2,383.1 1464.1,385.6 1464.6,388.2 1465.1,390.8 1465.5,393.2 1464.3,395.6 1463.1,398.3 1462.2,401.0 1460.4,403.4 1458.3,405.7 1456.2,407.9 1453.0,409.7 1449.7,411.5 1447.0,413.0 1445.7,413.2 1442.8,413.8 1440.0,414.4 1437.1,415.0 1434.2,415.6 1431.4,416.2 1428.5,416.8 1425.6,417.4 1422.8,418.0 1419.9,418.6 1417.0,419.2 1414.2,419.8 1411.3,420.4 1408.4,420.9 1405.6,421.5 1402.7,422.1 1399.8,422.7 1397.0,423.2 1394.1,423.8 1391.2,424.3 1388.3,424.9 1385.5,425.5 1382.6,426.0 1379.7,426.6 1376.8,427.1 1374.0,427.7 1371.1,428.2 1368.2,428.7 1365.3,429.3 1362.5,429.8 1359.6,430.3 1356.7,430.9 1353.8,431.4 1350.9,431.9 1348.1,432.4 1345.2,432.9 1342.3,433.4 1339.4,433.9 1336.5,434.4 1333.6,434.9 1330.8,435.4 1327.9,435.9 1325.0,436.4 1322.1,436.9 1319.2,437.4 1316.3,437.9 1313.4,438.4 1310.6,438.8 1304.8,403.9Z"/><path class="s" fill="#fd8d3c" d="M1315.7,338.5 1329.7,324.8 1337.2,313.1 1333.1,304.8 1329.7,298.2 1338.1,293.2 1354.7,289.8 1371.3,289.8 1388.0,286.5 1396.3,278.2 1403.0,271.5 1403.8,263.2 1398.0,256.6 1401.3,249.9 1403.0,241.6 1409.6,233.3 1419.6,216.6 1429.6,210.0 1431.6,208.6 1434.3,208.0 1437.1,207.4 1439.8,206.7 1442.6,206.1 1445.3,205.4 1448.1,204.8 1450.8,204.2 1453.5,203.5 1456.3,202.8 1459.0,202.2 1461.8,201.5 1464.5,200.9 1467.3,200.2 1470.0,210.0 1475.0,232.0 1478.2,240.0 1481.5,250.0 1486.5,260.0 1489.8,273.3 1491.5,283.3 1491.5,309.9 1495.7,339.8 1493.2,348.2 1490.5,349.5 1488.8,351.6 1476.0,349.5 1462.2,346.6 1456.4,340.0 1452.9,333.1 1446.2,328.1 1439.0,324.8 1436.3,325.4 1433.5,326.0 1430.7,326.6 1428.0,327.2 1425.2,327.8 1422.5,328.4 1419.7,329.0 1417.0,329.6 1414.2,330.2 1411.5,330.7 1408.7,331.3 1406.0,331.9 1403.2,332.5 1400.4,333.0 1397.7,333.6 1394.9,334.1 1392.2,334.7 1389.4,335.3 1386.6,335.8 1383.9,336.4 1381.1,336.9 1378.4,337.5 1375.6,338.0 1372.8,338.5 1370.1,339.1 1367.3,339.6 1364.5,340.1 1361.8,340.7 1359.0,341.2 1356.2,341.7 1353.5,342.2 1350.7,342.7 1347.9,343.3 1345.2,343.8 1342.4,344.3 1339.6,344.8 1336.8,345.3 1334.1,345.8 1331.3,346.3 1328.5,346.8 1325.8,347.2 1323.0,347.7 1320.2,348.2 1317.4,348.7ZM1489.8,356.5 1499.8,353.1 1516.5,346.5 1529.8,339.8 1541.4,336.5 1546.4,336.5 1533.1,346.5 1519.8,356.5 1506.5,363.1 1494.8,368.1 1490.7,366.4Z"/><path class="s" fill="#f03b20" d="M1462.2,346.6 1476.0,349.5 1488.8,351.6 1489.6,361.6 1488.0,369.9 1486.3,374.9 1491.3,378.2 1493.0,386.6 1492.2,403.2 1489.6,413.2 1486.3,419.8 1483.0,426.5 1479.7,436.5 1473.0,426.5 1463.0,423.2 1456.4,418.2 1453.1,413.2 1449.7,411.5 1453.0,409.7 1456.2,407.9 1458.3,405.7 1460.4,403.4 1462.2,401.0 1463.1,398.3 1464.3,395.6 1465.5,393.2 1465.1,390.8 1464.6,388.2 1464.1,385.6 1463.2,383.1 1461.3,379.9 1459.5,376.7 1458.3,373.3 1457.3,369.9 1457.3,366.9 1457.2,363.8 1458.3,361.0 1459.4,358.2 1459.5,355.2 1460.4,352.3 1461.5,349.5Z"/><path class="s" fill="#f03b20" d="M1449.7,411.5 1454.7,418.2 1459.7,423.2 1466.4,433.1 1473.0,441.5 1476.3,448.1 1477.4,456.3 1456.0,461.0 1453.1,440.0 1451.0,430.0 1445.7,413.2 1447.0,413.0Z"/><path class="s" fill="#fed976" d="M1445.7,413.2 1442.8,413.8 1439.9,414.4 1436.9,415.0 1434.0,415.7 1431.1,416.3 1428.2,416.9 1425.3,417.5 1422.4,418.1 1419.4,418.7 1416.5,419.3 1413.6,419.9 1410.7,420.5 1407.8,421.1 1404.8,421.7 1401.9,422.2 1399.0,422.8 1396.1,423.4 1393.1,424.0 1390.2,424.5 1387.3,425.1 1384.4,425.7 1381.4,426.2 1378.5,426.8 1375.6,427.4 1372.6,427.9 1369.7,428.5 1366.8,429.0 1363.8,429.5 1360.9,430.1 1358.0,430.6 1355.0,431.2 1352.1,431.7 1349.2,432.2 1346.2,432.7 1343.3,433.3 1340.4,433.8 1343.8,453.5 1350.9,446.0 1356.5,440.5 1362.0,433.8 1367.5,432.7 1373.1,430.5 1377.5,427.2 1382.0,428.3 1387.5,430.5 1392.0,434.9 1394.2,439.4 1394.2,446.0 1397.5,439.4 1401.9,441.6 1404.2,446.0 1413.0,448.2 1417.5,450.5 1419.7,457.1 1416.4,461.5 1414.1,470.4 1417.5,471.5 1422.3,470.5 1428.1,474.6 1438.4,479.2 1444.2,483.8 1452.0,479.0 1466.4,475.8 1475.1,473.4 1478.5,465.0 1477.4,456.3 1456.0,461.0 1453.1,440.0 1451.0,430.0Z"/><path class="s" fill="#bd0026" d="M1304.8,403.9 1310.6,438.8 1313.5,438.3 1316.5,437.8 1319.5,437.3 1322.5,436.8 1325.5,436.3 1328.5,435.8 1331.4,435.3 1334.4,434.8 1337.4,434.3 1340.4,433.8 1343.8,453.5 1350.9,446.0 1356.5,440.5 1362.0,433.8 1367.5,432.7 1373.1,430.5 1377.5,427.2 1382.0,428.3 1387.5,430.5 1392.0,434.9 1394.2,439.4 1394.2,446.0 1391.7,445.1 1389.3,443.9 1386.9,443.0 1384.2,442.7 1380.9,441.0 1377.3,439.0 1376.2,442.6 1375.3,445.7 1374.3,449.0 1373.4,452.2 1371.7,454.6 1370.0,457.4 1368.2,459.9 1366.4,462.1 1364.3,464.2 1362.6,466.4 1361.3,468.7 1360.0,471.0 1358.4,472.9 1357.3,475.6 1356.8,478.5 1356.2,481.2 1353.7,480.9 1350.9,481.5 1346.5,479.6 1345.5,482.0 1343.8,484.0 1342.6,486.6 1341.6,489.3 1340.4,492.0 1339.5,494.7 1338.0,497.5 1336.9,500.5 1336.9,503.9 1334.9,507.1 1332.7,510.2 1331.5,512.4 1330.1,514.4 1328.3,516.2 1326.8,518.2 1325.2,520.2 1323.0,521.5 1320.9,522.8 1319.2,524.7 1317.2,526.3 1314.9,527.3 1312.5,528.4 1310.2,530.0 1307.8,531.2 1305.2,532.0 1302.5,532.6 1299.9,533.2 1297.3,533.9 1295.0,535.4 1292.5,536.5 1290.0,537.5 1288.3,535.4 1286.4,533.6 1283.8,532.4 1281.9,530.7 1280.0,528.3 1278.0,525.9 1275.9,523.9 1273.8,522.2 1271.1,520.9 1268.5,519.5 1266.8,517.2 1265.2,514.9 1264.0,512.4 1263.4,509.5 1262.7,506.8 1261.2,504.8 1260.6,502.2 1260.4,499.3 1260.5,496.5 1262.1,492.5 1263.8,490.1 1266.0,488.2 1268.5,487.0 1269.1,484.1 1270.5,481.3 1271.4,478.7 1272.9,476.2 1274.0,473.6 1276.0,473.1 1278.6,472.3 1279.4,469.7 1280.8,467.2 1281.0,464.2 1281.2,461.0 1283.8,458.7 1286.2,456.5 1289.7,455.1 1293.4,454.1 1296.3,452.4 1298.7,450.4 1301.0,447.8 1301.5,444.8 1301.7,442.1 1302.0,439.4 1301.9,436.6 1302.1,433.8 1302.8,431.1 1304.1,428.4 1304.5,425.6 1304.1,422.8 1303.8,420.0 1303.8,417.2 1304.1,414.4 1304.7,411.6 1304.0,408.8 1303.2,406.1Z"/><path class="s" fill="#feb24c" d="M1290.0,537.5 1292.5,536.5 1295.0,535.4 1297.3,533.9 1299.9,533.2 1302.5,532.6 1305.2,532.0 1307.8,531.2 1310.2,530.0 1312.5,528.4 1314.9,527.3 1317.2,526.3 1319.2,524.7 1320.9,522.8 1323.0,521.5 1325.2,520.2 1326.8,518.2 1328.3,516.2 1330.1,514.4 1331.5,512.4 1332.7,510.2 1334.9,507.1 1336.9,503.9 1336.9,500.5 1338.0,497.5 1339.5,494.7 1340.4,492.0 1341.6,489.3 1342.6,486.6 1343.8,484.0 1345.5,482.0 1346.5,479.6 1350.9,481.5 1353.7,480.9 1356.2,481.2 1356.8,478.5 1357.3,475.6 1358.4,472.9 1360.0,471.0 1361.3,468.7 1362.6,466.4 1364.3,464.2 1366.4,462.1 1368.2,459.9 1370.0,457.4 1371.7,454.6 1373.4,452.2 1374.3,449.0 1375.3,445.7 1376.2,442.6 1377.3,439.0 1380.9,441.0 1384.2,442.7 1386.9,443.0 1389.3,443.9 1391.7,445.1 1394.2,446.0 1397.5,439.4 1401.9,441.6 1404.2,446.0 1413.0,448.2 1417.5,450.5 1419.7,457.1 1416.4,461.5 1414.1,470.4 1417.5,471.5 1422.3,470.5 1428.1,474.6 1438.4,479.2 1444.2,483.8 1447.7,490.7 1448.8,497.6 1450.0,505.7 1451.1,513.7 1453.4,520.7 1464.7,520.7 1466.4,528.2 1469.1,533.1 1295.3,563.3 1238.7,570.0 1240.6,568.0 1242.7,566.1 1245.2,564.5 1247.2,562.5 1248.6,560.0 1249.8,557.2 1251.9,555.6 1254.3,554.3 1256.1,552.3 1258.0,550.4 1260.3,549.0 1262.7,547.8 1265.2,547.1 1267.6,545.9 1270.0,544.7 1272.5,543.7 1274.8,542.4 1277.1,540.9 1279.6,539.8 1282.3,539.4 1285.0,539.1 1287.5,538.3ZM1466.4,475.8 1475.1,473.4 1471.4,481.6 1468.0,496.6 1462.2,511.5 1460.6,496.6 1464.7,486.6Z"/><path class="s" fill="#feb24c" d="M1295.3,563.3 1469.1,533.1 1472.8,538.1 1479.5,547.5 1486.2,556.9 1490.2,563.6 1491.6,570.3 1490.9,579.7 1486.2,581.1 1479.5,586.5 1474.1,593.2 1468.7,602.6 1466.0,609.3 1459.3,608.0 1452.6,610.7 1444.5,613.4 1439.2,618.7 1433.8,624.1 1429.7,632.2 1427.1,637.6 1427.1,647.0 1420.3,647.0 1408.2,649.0 1390.0,637.5 1367.5,621.2 1333.7,625.0 1326.2,618.7 1322.5,615.0 1290.0,617.5 1272.5,621.2 1261.0,630.2 1257.8,630.6 1254.7,631.0 1251.6,631.4 1248.5,631.8 1245.3,632.3 1242.2,632.7 1239.1,633.1 1236.0,633.5 1232.8,633.9 1229.7,634.3 1226.6,634.7 1223.5,635.0 1224.0,632.3 1224.2,629.2 1224.8,626.1 1226.4,623.9 1227.5,621.4 1229.3,619.4 1231.9,618.1 1234.2,616.7 1235.9,614.6 1237.3,612.2 1239.7,610.5 1242.4,609.3 1245.1,608.2 1247.6,606.7 1249.7,604.4 1252.3,603.7 1254.9,603.2 1257.4,602.8 1260.3,602.9 1262.1,600.6 1263.5,598.3 1264.6,595.8 1265.8,593.3 1267.8,591.6 1270.3,591.5 1272.8,590.7 1275.3,590.1 1277.8,589.1 1280.2,587.8 1282.2,586.2 1284.2,584.5 1285.2,581.9 1286.9,580.0 1289.8,579.3 1291.8,577.8 1293.1,575.4 1294.5,573.5 1294.6,571.1 1295.2,568.5 1295.2,565.9Z"/><path class="s" fill="#feb24c" d="M1408.2,649.0 1404.2,652.3 1398.8,659.1 1394.8,670.0 1390.0,680.0 1377.5,692.5 1365.0,705.0 1355.0,715.0 1347.5,725.0 1346.2,730.0 1343.9,728.7 1341.8,727.0 1340.0,725.0 1338.6,722.7 1337.3,720.3 1335.4,718.4 1333.2,716.8 1331.3,714.9 1329.2,713.1 1327.9,710.8 1326.6,708.6 1325.3,706.4 1323.9,704.2 1322.5,702.0 1321.5,699.6 1320.1,697.4 1317.7,696.4 1315.7,694.9 1314.0,693.0 1312.1,691.4 1309.9,690.1 1307.8,688.2 1305.5,686.5 1303.5,684.5 1302.0,682.0 1299.8,680.3 1297.3,678.9 1295.1,676.8 1292.6,675.3 1290.4,673.3 1288.0,671.9 1285.7,670.5 1284.3,668.2 1283.5,665.4 1282.0,663.2 1280.2,661.2 1278.8,658.9 1277.4,656.6 1276.0,654.1 1273.8,652.4 1271.5,650.9 1269.5,649.1 1267.3,647.6 1264.9,646.4 1262.8,644.7 1260.9,642.6 1258.7,641.2 1256.3,640.0 1257.8,637.7 1259.2,635.4 1260.2,632.8 1261.0,630.2 1272.5,621.2 1290.0,617.5 1322.5,615.0 1326.2,618.7 1333.7,625.0 1367.5,621.2 1390.0,637.5Z"/><path class="s" fill="#bd0026" d="M1491.5,309.9 1541.4,301.6 1544.8,321.5 1541.4,326.5 1533.1,330.7 1519.8,334.8 1509.8,339.8 1499.8,344.8 1493.2,348.2 1495.7,339.8Z"/><path class="s" fill="#f03b20" d="M1541.4,301.6 1550.6,301.6 1552.0,310.0 1557.0,312.0 1559.7,314.9 1553.1,318.2 1544.8,321.5Z"/><path class="s" fill="#f03b20" d="M1491.5,283.3 1509.8,279.1 1526.5,276.6 1549.7,264.1 1552.0,263.0 1559.7,266.6 1564.7,269.1 1559.7,278.3 1556.4,283.3 1563.1,288.3 1568.0,291.6 1569.7,298.2 1573.0,303.2 1580.0,302.0 1586.0,299.0 1589.0,294.0 1587.0,289.0 1583.0,287.0 1585.0,286.0 1589.5,288.5 1592.5,295.0 1592.5,303.0 1586.3,304.0 1579.7,304.5 1573.9,306.6 1571.4,309.9 1566.4,308.2 1559.7,306.6 1557.0,312.0 1552.0,310.0 1550.6,301.6 1541.4,301.6 1491.5,309.9ZM1573.0,313.5 1580.0,313.0 1580.5,316.5 1574.0,316.5ZM1586.0,313.5 1595.5,312.5 1596.0,316.0 1587.0,316.5Z"/><path class="s" fill="#feb24c" d="M1467.2,199.8 1469.8,199.2 1472.5,198.5 1475.2,197.9 1477.9,197.2 1480.5,196.6 1483.2,195.9 1485.9,195.2 1488.6,194.5 1491.2,193.9 1493.9,193.2 1496.6,192.5 1499.2,191.8 1501.9,191.1 1504.6,190.5 1507.2,189.8 1509.9,189.1 1512.6,188.4 1515.2,187.7 1517.5,205.0 1510.0,217.5 1508.7,235.0 1508.2,240.0 1509.8,256.6 1509.8,279.1 1491.5,283.3 1489.8,273.3 1486.5,260.0 1481.5,250.0 1478.2,240.0 1475.0,232.0 1470.0,210.0Z"/><path class="s" fill="#f03b20" d="M1515.2,187.7 1520.0,176.2 1526.2,177.5 1533.0,195.0 1540.0,222.5 1552.5,250.0 1556.4,258.0 1552.0,263.0 1549.7,264.1 1526.5,276.6 1509.8,279.1 1509.8,256.6 1508.2,240.0 1508.7,235.0 1510.0,217.5 1517.5,205.0Z"/><path class="s" fill="#feb24c" d="M1526.2,177.5 1532.5,167.5 1537.5,135.0 1540.0,110.0 1552.5,82.5 1557.5,87.5 1567.5,82.5 1577.5,80.0 1590.0,85.0 1605.0,130.0 1615.0,135.0 1620.0,150.0 1635.0,157.5 1636.2,162.5 1629.9,167.5 1622.4,175.0 1614.9,180.0 1607.4,182.5 1601.2,183.7 1592.4,185.0 1589.9,192.4 1589.9,204.9 1584.9,209.9 1578.7,213.7 1572.4,219.9 1565.0,224.9 1562.5,232.4 1560.0,242.0 1557.5,250.0 1556.4,258.0 1552.5,250.0 1540.0,222.5 1533.0,195.0Z"/><path class="s" fill="#fed976" d="M1416.0,455.0 1419.7,457.1 1416.4,461.5 1414.0,458.0Z"/><path class="s" fill="#feb24c" d="M288.8,763.8 323.7,897.9 336.2,893.5 337.1,900.6 348.7,906.0 355.8,909.5 364.7,893.5 371.8,898.8 387.9,907.7 398.5,918.4 411.0,923.8 421.7,927.3 427.0,936.2 427.9,945.1 419.9,946.9 412.8,952.2 403.9,950.5 393.2,939.8 384.3,932.7 373.6,923.8 364.7,916.6 357.6,913.1 348.7,909.5 339.8,906.0 330.9,903.3 322.0,902.4 313.1,903.3 304.2,905.1 298.8,908.6 291.7,902.4 284.6,896.2 279.2,894.4 272.1,895.3 270.3,900.6 273.9,909.5 268.5,916.6 259.6,918.4 249.0,923.8 247.2,916.6 250.7,907.7 259.6,900.6 261.4,891.7 256.1,895.3 250.7,898.8 245.4,906.0 238.3,913.1 232.0,925.5 236.6,932.7 231.8,938.4 226.1,945.2 218.4,951.9 213.6,956.7 211.7,961.5 204.9,966.3 199.2,971.1 193.4,976.9 185.7,980.7 178.0,979.7 174.2,983.6 167.5,986.5 158.8,990.3 151.1,992.2 145.4,995.1 141.5,995.1 142.5,992.2 149.2,988.4 156.9,986.5 162.7,980.7 168.4,976.9 175.2,975.9 180.0,974.9 183.8,970.1 195.3,963.4 204.0,953.8 204.9,943.2 206.9,936.5 211.7,928.8 208.8,931.7 199.2,931.7 196.3,935.5 193.4,939.4 191.5,933.6 183.8,932.7 178.0,936.5 171.3,936.5 170.4,928.8 170.6,918.4 163.5,916.6 154.6,914.9 151.0,906.0 149.2,898.8 145.7,891.7 144.8,886.4 151.0,877.5 154.6,873.9 156.4,868.6 160.1,868.0 167.7,866.8 173.9,864.2 180.2,863.0 182.7,858.0 184.0,851.7 182.7,845.4 173.9,846.7 167.7,848.6 158.9,849.2 150.1,846.7 148.8,842.9 146.3,835.4 141.3,829.1 155.1,822.2 163.9,818.4 166.4,819.1 167.0,822.8 168.9,826.6 179.0,826.6 182.7,824.1 177.7,820.3 173.9,812.8 168.9,811.5 167.7,807.8 161.4,800.2 154.5,791.4 157.6,785.2 167.7,783.9 173.9,780.1 177.1,771.4 181.5,766.3 189.0,763.8 195.3,757.6 202.8,757.6 207.8,752.5 215.4,752.5 221.6,756.9 229.2,756.3 230.4,760.1 236.7,761.9 249.2,760.1 255.5,762.6 268.1,764.5 275.6,760.7ZM227.0,955.7 229.9,951.9 235.7,948.0 240.5,942.3 243.4,936.5 248.2,940.4 247.2,950.0 243.4,955.7 237.6,959.6 231.8,963.4 229.0,966.3 227.0,961.5ZM111.7,856.0 118.0,853.5 123.0,857.0 130.0,860.0 128.0,864.5 122.0,862.0 114.0,860.0ZM135.0,910.0 140.0,907.7 145.5,910.0 145.0,915.0 139.0,916.6 135.5,914.0ZM102.5,1014.1 108.0,1010.0 115.0,1007.0 122.0,1005.0 130.5,1002.8 128.0,1006.0 120.0,1009.0 110.0,1012.5ZM141.9,993.1 146.0,990.5 150.0,988.8 149.0,992.5 144.0,995.0Z"/><path class="s" fill="#ffffb2" d="M449.1,912.2 452.6,906.9 456.4,906.1 454.3,911.3 450.5,914.8ZM465.6,901.7 469.1,897.4 476.1,896.5 482.2,898.2 483.0,904.3 481.3,909.5 475.2,910.4 469.1,908.7 465.3,905.2ZM520.4,920.0 524.7,919.1 529.1,914.8 534.3,920.8 541.3,924.3 543.9,929.5 536.1,931.3 530.8,928.7 526.5,929.5 523.9,924.3ZM557.3,932.1 567.3,931.3 578.6,933.0 577.4,936.8 567.3,936.5 557.8,936.8ZM566.5,943.4 571.7,942.2 576.0,945.2 575.2,949.5 571.7,950.4 569.1,946.9ZM579.9,940.3 584.7,938.6 588.6,944.8 596.9,943.8 603.9,946.1 605.6,950.4 602.1,953.5 593.8,955.3 590.3,950.8 583.9,947.3 579.9,944.3ZM581.3,957.7 583.9,954.7 587.3,954.7 587.0,957.7ZM610.8,968.1 616.0,966.4 621.2,971.3 631.7,975.1 640.4,980.0 643.8,988.7 652.5,993.9 649.1,999.1 638.6,1004.3 629.9,1009.5 626.5,1016.5 621.2,1016.8 616.0,1011.3 614.3,1002.6 612.5,995.6 607.3,988.7 609.1,981.7 612.5,974.7Z"/><path class="s" fill="#bd0026" d="M1544.3,965.5 1549.1,963.5 1562.6,962.6 1578.1,961.6 1593.5,959.7 1603.2,960.1 1606.1,963.5 1603.2,968.4 1599.3,975.1 1593.5,979.0 1578.1,979.9 1562.6,983.8 1551.1,986.7 1548.2,979.0 1546.2,973.2Z"/><path class="s" fill="#bd0026" d="M1633.1,978.0 1639.9,976.1 1645.6,977.0 1642.7,979.9 1635.0,981.9ZM1607.0,969.3 1612.8,967.0 1618.2,967.8 1613.8,970.3 1607.4,971.6ZM1611.9,960.6 1616.7,959.3 1619.0,960.6 1614.8,962.2ZM1622.5,956.8 1630.2,955.4 1638.9,955.8 1636.0,958.1 1628.3,958.1Z"/></g>
<g><g fill="#4a4a4a" fill-opacity="0.8" stroke="#3a3a3a" stroke-width="1.6" stroke-linejoin="round"><path d="M180,37 L184,35 L187,38 L185,42 L181,41 Z"/><path d="M186,42 L190,40.5 L192,44 L189,47 Z"/><path d="M177.5,44 L182,43 L183,47 L179,48.5 Z"/><path d="M186,47 L189,46 L191,50 L192,57 L190,65 L187,70 L185,66 L186,58 L185,52 Z"/><path d="M191,55 L193,54 L194,60 L192,62 Z"/><path d="M181,76 L183,75 L184,80 L182,82 Z"/><path d="M181,67 L183,66.5 L183.5,71.5 L181,72 Z"/></g><path fill="#4a4a4a" fill-opacity="0.8" d="M166,94 L168,89 L172,86 L177,85.5 L181,87 L178,91 L172,93.5 Z"/><path fill="none" stroke="#3a3a3a" stroke-width="2" stroke-linejoin="round" d="M166,92 L169.5,86 L173.5,80 L177.5,74 L180.5,68 M172,90 L177,87 L180,84 M175,79 L178.5,78 M169,88 L166.5,85"/><path class="w" d="M80.3,437.6 L82.5,434 L84,428.5 L88,427 L91.5,429.5 L91,433 L86.5,434.5 L84.5,437.5 L86,444 L88,449 L92,455.5 L89.5,456.5 L85,452 L82.5,446 L81.5,440 Z"/><path class="w" d="M136,88 L142,89 L143,92 L137,92.5 Z M133,101 L137,100 L139,106 L137,112 L134,110 L135,105 Z"/><path fill="#444" fill-opacity="0.8" d="M998,193 L1001,191 L1003,195 L1005,199 L1003,204 L1000,206 L999,200 Z"/><g fill="#fff" stroke="#3a3a3a" stroke-width="0.9"><path d="M103,594 L108,593 L110,597 L105,598 Z"/><path d="M110,597 L116,596 L117,600 L112,600 Z"/><path d="M119,598 L125,598 L125,601 L120,601 Z"/><path d="M124,630 L127,630 L127,633 L124,633 Z"/><path d="M139,632 L143,633 L144,638 L141,637 Z"/><path d="M150,646 L153,648 L155,656 L152,655 Z"/></g><path fill="#444" fill-opacity="0.85" d="M1555.8,255.7 1556.3,254.0 1556.7,252.3 1557.1,250.6 1557.6,248.9 1558.0,247.1 1558.4,245.4 1558.8,243.7 1559.3,242.0 1559.7,240.4 1560.1,238.7 1560.5,237.0 1560.9,235.4 1561.4,233.6 1562.1,231.9 1562.8,230.3 1563.5,228.7 1564.2,227.1 1565.1,225.2 1566.7,224.0 1568.1,223.0 1569.5,222.0 1570.9,221.0 1572.2,220.1 1573.4,219.0 1574.6,217.9 1575.8,216.8 1577.0,215.7 1578.3,214.5 1579.8,213.6 1581.2,212.7 1582.6,211.8 1584.0,210.9 1585.2,210.1 1586.4,208.9 1587.7,207.7 1588.9,206.4 1589.9,205.5 1589.9,204.2 1590.1,202.5 1590.2,200.8 1590.4,199.0 1590.5,197.3 1590.7,195.6 1590.9,193.7 1591.8,192.0 1592.6,190.6 1593.4,189.2 1594.2,187.8 1595.3,186.0 1597.4,185.3 1599.2,184.8 1600.9,184.3 1602.7,183.8 1604.8,183.5 1606.8,183.1 1608.7,182.8 1610.3,182.2 1612.1,181.6 1613.8,181.0 1615.5,180.4 1616.8,179.6 1618.2,178.7 1619.6,177.8 1621.0,176.9 1622.2,176.1 1623.3,174.9 1624.5,173.7 1625.6,172.4 1626.8,171.2 1628.0,169.9 1629.1,168.7 1630.3,167.4 1631.5,166.1 1632.7,164.8 1633.9,163.5 1635.1,162.2 1639.8,166.5 1636.1,165.5 1638.6,170.2 1636.9,171.0 1633.6,170.4 1631.8,171.1 1631.7,173.5 1632.3,176.3 1628.0,174.6 1630.8,179.6 1629.0,180.3 1624.2,178.4 1623.3,180.6 1622.9,183.0 1622.3,185.2 1618.9,182.9 1618.5,186.7 1615.9,186.8 1614.8,189.3 1613.2,190.2 1610.6,190.5 1607.4,186.8 1605.9,190.1 1604.6,192.3 1603.1,191.9 1601.4,192.8 1599.3,191.9 1600.1,192.6 1599.5,190.9 1598.8,192.3 1596.7,193.0 1596.1,194.5 1596.3,195.3 1595.2,196.0 1597.0,197.9 1595.7,199.5 1598.7,201.5 1594.1,202.8 1593.5,204.5 1592.9,206.9 1594.5,212.0 1593.5,213.5 1590.2,212.7 1590.0,215.9 1586.7,215.2 1587.0,218.7 1584.9,218.6 1584.1,220.3 1582.5,220.1 1580.7,219.8 1581.1,222.6 1576.5,220.0 1576.4,222.3 1576.2,224.9 1575.1,226.9 1571.3,224.5 1572.0,228.5 1570.9,229.8 1569.6,228.9 1571.4,230.3 1569.5,231.3 1566.1,231.8 1568.1,234.5 1566.6,235.4 1568.4,237.2 1565.9,238.4 1568.5,240.8 1563.7,241.4 1563.4,243.1 1566.3,245.6 1561.1,246.1 1561.0,247.9 1563.8,250.4 1563.3,252.1 1561.5,253.5 1562.1,255.4 1559.8,256.7Z"/><path class="w" d="M1040.4,832.5 L1043.2,829.7 L1046,830.4 L1053,827.6 L1057.3,828.3 L1063.6,831.8 L1065.7,836 L1061.5,839.5 L1053,840.9 L1047.4,838.1 L1045.3,835.3 L1041.8,836 Z"/><path fill="#444" fill-opacity="0.85" d="M1083,862 L1090,860 L1097,866 L1096,873 L1090,879 L1084,874 Z M1079,838 L1085,835 L1087,842 L1083,851 L1078,853 Z M1054,858 L1062,857 L1068,862 L1063,869 L1056,868 Z M1040,870 L1047,866 L1052,870 L1046,877 L1038,877 Z M1072,855 L1078,853 L1081,858 L1075,860 Z"/><path fill="none" stroke="#3d3d3d" stroke-width="1" stroke-dasharray="2,1.5" d="M1088,826 L1096,830 L1099,838 L1097,848 L1092,856"/><path fill="none" stroke="#3d3d3d" stroke-width="0.9" d="M823.5,1000 L820.5,980 L817,961 L821,943 L828,932 L838,921 L853,909 L873,898 L893,885 L908,870 L918,865"/><g fill="#fff" stroke="#3d3d3d" stroke-width="1"><path d="M895,866 L899,858 L905,855 L907,861 L903,867 Z"/><path d="M842,905 L849,898 L857,896 L853,903 L845,908 Z"/><path d="M812,945 L815,935 L820,930 L821,939 L816,948 Z"/><path d="M1315,905 L1319,898 L1321,906 L1317,911 Z"/><path d="M1333,937 L1337,932 L1339,938 L1335,942 Z"/></g><path fill="none" stroke="#3d3d3d" stroke-width="1.6" stroke-dasharray="3,1.5" d="M1404,986 L1398,995 L1390,1003 L1378,1010 L1365,1014 L1352,1018"/><path fill="none" stroke="#3d3d3d" stroke-width="1.8" d="M1447,550 L1455,553 L1460,549 L1468,552 L1474,548 M1446,578 L1455,574 L1462,576 L1458,582 L1450,586 L1458,590 L1452,595"/><path fill="#444" fill-opacity="0.85" d="M1551,303 L1555,304 L1557,311 L1554,315 L1551,311 Z"/><path fill="none" stroke="#404040" stroke-width="2" stroke-linejoin="round" d="M358,910 L372,922 L385,934 L398,944 L410,952 M366,902 L380,914 L395,926 L408,938 L420,946 M377,905 L392,917 L405,929 L418,939 M268,898 L272,905 L268,912 M276,897 L280,906 M284,900 L286,908"/><path fill="none" stroke="#404040" stroke-width="2.2" stroke-linejoin="round" d="M241,938 L246,942 L246,950 L240,957 L233,962 M236,946 L230,953 M229,965 L226,968 M205,968 L199,974 L194,978 M187,982 L183,984 M158,993 L152,996"/><path fill="none" stroke="#404040" stroke-width="2" stroke-dasharray="3,2" stroke-linecap="round" d="M8,1015 L18,1012 L30,1012 L42,1013.5 M46,1013.5 L56,1014.5 L66,1017.5 M70,1015 L72,1015 M82,1015 L90,1012.5 L98,1010.6 M131.3,997.5 L136,998.5 L141,1000"/><path fill="#fff" stroke="#3d3d3d" stroke-width="2.6" stroke-linejoin="round" d="M1443,421.5 L1436.1,429.6 L1432.7,437.7 L1430.4,448 L1431.5,458.4 L1436,463 L1440,468 L1444.2,474 L1447.7,484 L1448.8,497.6 L1450,505.7 L1451.1,513.7 L1453.4,520.7 L1464.9,520.7 L1463.8,513.7 L1461.5,509.1 L1460.3,497.6 L1461.5,488.4 L1462.6,481.5 L1459.2,474.6 L1454.6,467.6 L1448.8,460.7 L1446.5,453.8 L1443,443.4 L1443,433 L1446.5,421.5 Z"/><path fill="none" stroke="#3d3d3d" stroke-width="2.8" stroke-linecap="round" d="M1418,458 L1422,468 L1430,474 L1440,479 L1446,484 M1430,486 L1438,491 L1446,496 L1450,500 M1434,501 L1442,505 L1451,510 M1425,511 L1436,514 L1446,517 L1453,520 M1440,437 L1444,446 L1447,452 M1446,463 L1452,470 L1457,474"/><path fill="none" stroke="#3d3d3d" stroke-width="1.2" d="M1466,480 L1463,492 L1461.5,505 L1462.5,511"/><path fill="#444" fill-opacity="0.85" d="M1443.4,421.8 1442.2,423.2 1441.1,424.5 1439.9,425.9 1438.8,427.2 1437.6,428.6 1436.5,429.9 1435.9,431.4 1435.2,433.0 1434.5,434.7 1433.8,436.3 1433.2,437.9 1432.8,439.5 1432.4,441.2 1432.0,443.0 1431.7,444.7 1431.3,446.4 1430.9,448.0 1431.1,449.7 1431.3,451.4 1431.4,453.1 1431.6,454.9 1431.8,456.6 1432.0,458.2 1433.0,459.2 1434.1,460.4 1435.2,461.5 1436.4,462.7 1437.4,463.9 1438.4,465.2 1439.4,466.4 1440.4,467.7 1441.5,469.2 1442.5,470.7 1443.6,472.2 1444.6,473.8 1445.3,475.5 1445.8,477.2 1446.4,478.8 1447.0,480.5 1447.6,482.2 1448.2,483.9 1448.3,485.7 1448.5,487.4 1448.6,489.1 1448.7,490.8 1448.9,492.5 1449.0,494.2 1449.2,495.9 1449.3,497.5 1449.5,499.1 1449.8,500.8 1450.0,502.4 1450.3,504.0 1450.5,505.6 1450.7,507.2 1450.9,508.8 1451.2,510.4 1451.4,512.0 1451.6,513.6 1450.5,513.8 1447.5,512.6 1450.0,510.6 1447.9,509.3 1448.3,507.6 1448.6,505.9 1447.8,504.4 1446.6,502.9 1447.9,501.0 1447.5,499.4 1446.3,497.9 1448.2,495.9 1446.2,494.4 1447.0,492.6 1447.6,490.9 1447.2,489.2 1447.0,487.5 1446.3,485.8 1446.3,484.3 1444.1,483.4 1443.3,481.8 1443.5,479.8 1442.2,478.4 1443.7,476.0 1441.9,475.2 1441.4,473.7 1439.3,472.9 1439.9,470.3 1437.5,469.9 1436.3,468.9 1437.1,466.2 1436.1,465.0 1433.7,465.1 1434.5,462.2 1433.1,461.3 1430.9,461.2 1430.7,458.8 1428.4,457.0 1430.2,455.0 1428.2,453.5 1427.5,451.8 1429.3,449.9 1429.3,447.9 1430.3,446.2 1429.0,444.1 1429.5,442.4 1430.7,440.9 1430.5,439.0 1431.9,437.4 1430.4,434.8 1431.8,433.5 1431.7,431.6 1433.7,430.5 1435.6,429.3 1434.8,426.1 1436.3,425.1 1437.0,423.4 1438.5,422.3 1439.8,421.1 1441.2,420.0Z"/><path fill="#444" fill-opacity="0.85" d="M1447.0,421.6 1446.5,423.3 1446.0,424.9 1445.5,426.6 1445.0,428.2 1444.5,429.9 1444.0,431.5 1443.5,433.1 1443.5,434.7 1443.5,436.5 1443.5,438.2 1443.5,439.9 1443.5,441.7 1443.5,443.3 1444.1,445.0 1444.6,446.7 1445.2,448.4 1445.8,450.2 1446.4,451.9 1447.0,453.6 1447.5,455.4 1448.1,457.1 1448.7,458.8 1449.2,460.5 1450.3,461.8 1451.5,463.1 1452.7,464.5 1453.8,465.9 1455.0,467.3 1455.9,468.7 1456.9,470.1 1457.8,471.5 1458.7,472.9 1459.6,474.4 1460.5,476.1 1461.3,477.8 1462.2,479.6 1463.0,481.3 1459.2,483.2 1460.2,480.6 1458.4,479.3 1459.0,476.9 1457.0,475.9 1455.1,475.3 1456.1,472.6 1454.2,471.9 1454.5,469.7 1453.9,468.1 1451.9,467.5 1449.7,467.0 1448.6,465.6 1449.3,462.6 1447.3,461.5 1444.9,460.1 1444.9,458.2 1443.9,456.6 1445.1,454.3 1442.8,453.1 1443.0,451.1 1443.6,449.0 1441.4,447.8 1441.3,445.9 1441.1,443.7 1439.9,441.7 1439.7,439.9 1441.5,438.2 1439.8,436.5 1441.2,434.7 1439.9,432.5 1441.4,430.7 1441.3,428.9 1444.0,427.9 1443.6,426.0 1443.4,424.1 1442.8,422.2 1443.4,420.5Z"/><path fill="#444" fill-opacity="0.85" d="M1443,440 L1447,437 L1452,445 L1454,455 L1450,462 L1446,458 L1444,450 Z"/><path class="w" d="M1450,557 L1461,554 L1474,550 L1479.5,555.5 L1480.8,565 L1476.8,573 L1472.8,578.4 L1466,582.4 L1463.4,587.8 L1462,594.5 L1468.7,593.2 L1482.2,581.1 L1488,577 L1488.5,565 L1482,554 L1474,545 L1466,540 L1462,548 Z"/><path class="w" d="M1042,829 L1055,827 L1066,830 L1067,838 L1056,841 L1044,838 Z"/></g>
<g class="halo" filter="url(#blur)"><text x="232.7" y="99.4" textLength="21.44" lengthAdjust="spacingAndGlyphs">WA</text><text x="232.7" y="114.4" textLength="29.05" lengthAdjust="spacingAndGlyphs">19.9</text><text x="196.7" y="225.1" textLength="18.64" lengthAdjust="spacingAndGlyphs">OR</text><text x="196.7" y="240.1" textLength="29.05" lengthAdjust="spacingAndGlyphs">22.3</text><text x="357.7" y="244.5" textLength="13.47" lengthAdjust="spacingAndGlyphs">ID</text><text x="357.7" y="259.5" textLength="29.05" lengthAdjust="spacingAndGlyphs">24.2</text><text x="506" y="168.5" textLength="20.73" lengthAdjust="spacingAndGlyphs">MT</text><text x="506" y="183.5" textLength="29.05" lengthAdjust="spacingAndGlyphs">27.7</text><text x="541.2" y="326.8" textLength="20.91" lengthAdjust="spacingAndGlyphs">WY</text><text x="541.2" y="341.8" textLength="29.05" lengthAdjust="spacingAndGlyphs">26.5</text><text x="753.3" y="400.8" textLength="17.92" lengthAdjust="spacingAndGlyphs">NE</text><text x="753.3" y="415.8" textLength="29.05" lengthAdjust="spacingAndGlyphs">23.7</text><text x="581" y="485.8" textLength="18.98" lengthAdjust="spacingAndGlyphs">CO</text><text x="581" y="500.8" textLength="29.05" lengthAdjust="spacingAndGlyphs">20.7</text><text x="791.5" y="519.9" textLength="17.59" lengthAdjust="spacingAndGlyphs">KS</text><text x="791.5" y="534.9" textLength="29.05" lengthAdjust="spacingAndGlyphs">28.2</text><text x="932.3" y="381.1" textLength="14.03" lengthAdjust="spacingAndGlyphs">IA</text><text x="932.3" y="396.1" textLength="29.05" lengthAdjust="spacingAndGlyphs">25.5</text><text x="1059.3" y="453.1" textLength="12.03" lengthAdjust="spacingAndGlyphs">IL</text><text x="1059.3" y="468.1" textLength="29.05" lengthAdjust="spacingAndGlyphs">24.7</text><text x="965.8" y="523.7" textLength="22.03" lengthAdjust="spacingAndGlyphs">MO</text><text x="965.8" y="538.7" textLength="29.05" lengthAdjust="spacingAndGlyphs">28.3</text><text x="815" y="631.5" textLength="18.69" lengthAdjust="spacingAndGlyphs">OK</text><text x="815" y="646.5" textLength="29.05" lengthAdjust="spacingAndGlyphs">25.6</text><text x="972" y="657.1" textLength="18.47" lengthAdjust="spacingAndGlyphs">AR</text><text x="972" y="672.1" textLength="29.05" lengthAdjust="spacingAndGlyphs">24.1</text><text x="546.7" y="659.8" textLength="22.2" lengthAdjust="spacingAndGlyphs">NM</text><text x="546.7" y="674.8" textLength="29.05" lengthAdjust="spacingAndGlyphs">19.7</text><text x="1065" y="733.8" textLength="20.92" lengthAdjust="spacingAndGlyphs">MS</text><text x="1065" y="748.8" textLength="29.05" lengthAdjust="spacingAndGlyphs">18.2</text><text x="404.3" y="449.8" textLength="17.92" lengthAdjust="spacingAndGlyphs">UT</text><text x="404.3" y="464.8" textLength="29.05" lengthAdjust="spacingAndGlyphs">21.3</text><text x="262.7" y="420.8" textLength="19.23" lengthAdjust="spacingAndGlyphs">NV</text><text x="262.7" y="435.8" textLength="29.05" lengthAdjust="spacingAndGlyphs">24.7</text><text x="158.3" y="479.8" textLength="18.81" lengthAdjust="spacingAndGlyphs">CA</text><text x="158.3" y="494.8" textLength="29.05" lengthAdjust="spacingAndGlyphs">20.0</text><text x="373.3" y="640.8" textLength="18.14" lengthAdjust="spacingAndGlyphs">AZ</text><text x="373.3" y="655.8" textLength="29.05" lengthAdjust="spacingAndGlyphs">19.3</text><text x="753.3" y="785.8" textLength="17.73" lengthAdjust="spacingAndGlyphs">TX</text><text x="753.3" y="800.8" textLength="29.05" lengthAdjust="spacingAndGlyphs">20.7</text><text x="975.7" y="793.1" textLength="17.47" lengthAdjust="spacingAndGlyphs">LA</text><text x="975.7" y="808.1" textLength="29.05" lengthAdjust="spacingAndGlyphs">17.8</text><text x="1154.5" y="724.8" textLength="17.33" lengthAdjust="spacingAndGlyphs">AL</text><text x="1154.5" y="739.8" textLength="29.05" lengthAdjust="spacingAndGlyphs">19.0</text><text x="1262" y="718.5" textLength="19.09" lengthAdjust="spacingAndGlyphs">GA</text><text x="1262" y="733.5" textLength="29.05" lengthAdjust="spacingAndGlyphs">27.1</text><text x="1338.6" y="852.7" textLength="15.45" lengthAdjust="spacingAndGlyphs">FL</text><text x="1338.6" y="867.7" textLength="29.05" lengthAdjust="spacingAndGlyphs">24.8</text><text x="1335.3" y="658.1" textLength="17.88" lengthAdjust="spacingAndGlyphs">SC</text><text x="1335.3" y="673.1" textLength="29.05" lengthAdjust="spacingAndGlyphs">27.2</text><text x="1371.7" y="589.1" textLength="19.17" lengthAdjust="spacingAndGlyphs">NC</text><text x="1371.7" y="604.1" textLength="29.05" lengthAdjust="spacingAndGlyphs">26.5</text><text x="1158.7" y="606.8" textLength="18.66" lengthAdjust="spacingAndGlyphs">TN</text><text x="1158.7" y="621.8" textLength="29.05" lengthAdjust="spacingAndGlyphs">25.6</text><text x="1182.7" y="539.1" textLength="17.66" lengthAdjust="spacingAndGlyphs">KY</text><text x="1182.7" y="554.1" textLength="29.05" lengthAdjust="spacingAndGlyphs">35.3</text><text x="1374.7" y="511.5" textLength="18.3" lengthAdjust="spacingAndGlyphs">VA</text><text x="1374.7" y="526.5" textLength="29.05" lengthAdjust="spacingAndGlyphs">26.2</text><text x="1314.7" y="477.5" textLength="21.47" lengthAdjust="spacingAndGlyphs">WV</text><text x="1314.7" y="492.5" textLength="29.05" lengthAdjust="spacingAndGlyphs">40.0</text><text x="1242.7" y="424.1" textLength="19.73" lengthAdjust="spacingAndGlyphs">OH</text><text x="1242.7" y="439.1" textLength="29.05" lengthAdjust="spacingAndGlyphs">31.0</text><text x="1144.3" y="450.8" textLength="14.25" lengthAdjust="spacingAndGlyphs">IN</text><text x="1144.3" y="465.8" textLength="29.05" lengthAdjust="spacingAndGlyphs">33.5</text><text x="1166.3" y="282.5" textLength="16.56" lengthAdjust="spacingAndGlyphs">MI</text><text x="1166.3" y="297.5" textLength="29.05" lengthAdjust="spacingAndGlyphs">28.3</text><text x="1024.3" y="279.1" textLength="16.48" lengthAdjust="spacingAndGlyphs">WI</text><text x="1024.3" y="294.1" textLength="29.05" lengthAdjust="spacingAndGlyphs">25.2</text><text x="906.7" y="220.1" textLength="22.2" lengthAdjust="spacingAndGlyphs">MN</text><text x="906.7" y="235.1" textLength="29.05" lengthAdjust="spacingAndGlyphs">22.9</text><text x="745.7" y="175.1" textLength="19.13" lengthAdjust="spacingAndGlyphs">ND</text><text x="745.7" y="190.1" textLength="29.05" lengthAdjust="spacingAndGlyphs">34.8</text><text x="746.7" y="289.1" textLength="17.83" lengthAdjust="spacingAndGlyphs">SD</text><text x="746.7" y="304.1" textLength="29.05" lengthAdjust="spacingAndGlyphs">33.4</text><text x="1380" y="379.1" textLength="17.42" lengthAdjust="spacingAndGlyphs">PA</text><text x="1380" y="394.1" textLength="29.05" lengthAdjust="spacingAndGlyphs">39.0</text><text x="1427.3" y="287.8" textLength="18.45" lengthAdjust="spacingAndGlyphs">NY</text><text x="1427.3" y="302.8" textLength="29.05" lengthAdjust="spacingAndGlyphs">31.0</text><text x="1493" y="216.8" textLength="18" lengthAdjust="spacingAndGlyphs">VT</text><text x="1493" y="231.8" textLength="29.05" lengthAdjust="spacingAndGlyphs">24.5</text><text x="1526.3" y="234.8" textLength="19.91" lengthAdjust="spacingAndGlyphs">NH</text><text x="1526.3" y="249.8" textLength="29.05" lengthAdjust="spacingAndGlyphs">35.5</text><text x="1538.7" y="284.8" textLength="22" lengthAdjust="spacingAndGlyphs">MA</text><text x="1538.7" y="299.8" textLength="29.05" lengthAdjust="spacingAndGlyphs">33.9</text><text x="1518" y="319.8" textLength="17.7" lengthAdjust="spacingAndGlyphs">CT</text><text x="1518" y="334.8" textLength="29.05" lengthAdjust="spacingAndGlyphs">36.9</text><text x="1578" y="346.5" textLength="13.19" lengthAdjust="spacingAndGlyphs">RI</text><text x="1578" y="361.5" textLength="29.05" lengthAdjust="spacingAndGlyphs">33.7</text><text x="1478.7" y="388.1" textLength="17.86" lengthAdjust="spacingAndGlyphs">NJ</text><text x="1478.7" y="403.1" textLength="29.05" lengthAdjust="spacingAndGlyphs">35.5</text><text x="1504.3" y="442.5" textLength="17.14" lengthAdjust="spacingAndGlyphs">DE</text><text x="1504.3" y="457.5" textLength="29.05" lengthAdjust="spacingAndGlyphs">33.9</text><text x="1420.7" y="429.8" textLength="21.44" lengthAdjust="spacingAndGlyphs">MD</text><text x="1420.7" y="444.8" textLength="29.05" lengthAdjust="spacingAndGlyphs">23.9</text><text x="1502" y="481.8" textLength="18.39" lengthAdjust="spacingAndGlyphs">DC</text><text x="1502" y="496.8" textLength="29.05" lengthAdjust="spacingAndGlyphs">23.7</text><text x="1571.3" y="154.8" textLength="20.23" lengthAdjust="spacingAndGlyphs">ME</text><text x="1571.3" y="169.8" textLength="29.05" lengthAdjust="spacingAndGlyphs">24.4</text><text x="237.3" y="851.0" textLength="18.52" lengthAdjust="spacingAndGlyphs">AK</text><text x="237.3" y="866.0" textLength="29.05" lengthAdjust="spacingAndGlyphs">25.9</text><text x="626" y="988.1" textLength="14.27" lengthAdjust="spacingAndGlyphs">HI</text><text x="626" y="1003.1" textLength="29.05" lengthAdjust="spacingAndGlyphs">15.9</text><text x="1572.3" y="1006.8" textLength="18.03" lengthAdjust="spacingAndGlyphs">PR</text><text x="1572.3" y="1021.8" textLength="29.05" lengthAdjust="spacingAndGlyphs">42.6</text><text x="1639.5" y="1005.8" textLength="13.59" lengthAdjust="spacingAndGlyphs">VI</text><text x="1639.5" y="1020.8" textLength="29.05" lengthAdjust="spacingAndGlyphs">36.7</text></g>
<g class="lab"><text x="232.7" y="99.4" textLength="21.44" lengthAdjust="spacingAndGlyphs">WA</text><text x="232.7" y="114.4" textLength="29.05" lengthAdjust="spacingAndGlyphs">19.9</text><text x="196.7" y="225.1" textLength="18.64" lengthAdjust="spacingAndGlyphs">OR</text><text x="196.7" y="240.1" textLength="29.05" lengthAdjust="spacingAndGlyphs">22.3</text><text x="357.7" y="244.5" textLength="13.47" lengthAdjust="spacingAndGlyphs">ID</text><text x="357.7" y="259.5" textLength="29.05" lengthAdjust="spacingAndGlyphs">24.2</text><text x="506" y="168.5" textLength="20.73" lengthAdjust="spacingAndGlyphs">MT</text><text x="506" y="183.5" textLength="29.05" lengthAdjust="spacingAndGlyphs">27.7</text><text x="541.2" y="326.8" textLength="20.91" lengthAdjust="spacingAndGlyphs">WY</text><text x="541.2" y="341.8" textLength="29.05" lengthAdjust="spacingAndGlyphs">26.5</text><text x="753.3" y="400.8" textLength="17.92" lengthAdjust="spacingAndGlyphs">NE</text><text x="753.3" y="415.8" textLength="29.05" lengthAdjust="spacingAndGlyphs">23.7</text><text x="581" y="485.8" textLength="18.98" lengthAdjust="spacingAndGlyphs">CO</text><text x="581" y="500.8" textLength="29.05" lengthAdjust="spacingAndGlyphs">20.7</text><text x="791.5" y="519.9" textLength="17.59" lengthAdjust="spacingAndGlyphs">KS</text><text x="791.5" y="534.9" textLength="29.05" lengthAdjust="spacingAndGlyphs">28.2</text><text x="932.3" y="381.1" textLength="14.03" lengthAdjust="spacingAndGlyphs">IA</text><text x="932.3" y="396.1" textLength="29.05" lengthAdjust="spacingAndGlyphs">25.5</text><text x="1059.3" y="453.1" textLength="12.03" lengthAdjust="spacingAndGlyphs">IL</text><text x="1059.3" y="468.1" textLength="29.05" lengthAdjust="spacingAndGlyphs">24.7</text><text x="965.8" y="523.7" textLength="22.03" lengthAdjust="spacingAndGlyphs">MO</text><text x="965.8" y="538.7" textLength="29.05" lengthAdjust="spacingAndGlyphs">28.3</text><text x="815" y="631.5" textLength="18.69" lengthAdjust="spacingAndGlyphs">OK</text><text x="815" y="646.5" textLength="29.05" lengthAdjust="spacingAndGlyphs">25.6</text><text x="972" y="657.1" textLength="18.47" lengthAdjust="spacingAndGlyphs">AR</text><text x="972" y="672.1" textLength="29.05" lengthAdjust="spacingAndGlyphs">24.1</text><text x="546.7" y="659.8" textLength="22.2" lengthAdjust="spacingAndGlyphs">NM</text><text x="546.7" y="674.8" textLength="29.05" lengthAdjust="spacingAndGlyphs">19.7</text><text x="1065" y="733.8" textLength="20.92" lengthAdjust="spacingAndGlyphs">MS</text><text x="1065" y="748.8" textLength="29.05" lengthAdjust="spacingAndGlyphs">18.2</text><text x="404.3" y="449.8" textLength="17.92" lengthAdjust="spacingAndGlyphs">UT</text><text x="404.3" y="464.8" textLength="29.05" lengthAdjust="spacingAndGlyphs">21.3</text><text x="262.7" y="420.8" textLength="19.23" lengthAdjust="spacingAndGlyphs">NV</text><text x="262.7" y="435.8" textLength="29.05" lengthAdjust="spacingAndGlyphs">24.7</text><text x="158.3" y="479.8" textLength="18.81" lengthAdjust="spacingAndGlyphs">CA</text><text x="158.3" y="494.8" textLength="29.05" lengthAdjust="spacingAndGlyphs">20.0</text><text x="373.3" y="640.8" textLength="18.14" lengthAdjust="spacingAndGlyphs">AZ</text><text x="373.3" y="655.8" textLength="29.05" lengthAdjust="spacingAndGlyphs">19.3</text><text x="753.3" y="785.8" textLength="17.73" lengthAdjust="spacingAndGlyphs">TX</text><text x="753.3" y="800.8" textLength="29.05" lengthAdjust="spacingAndGlyphs">20.7</text><text x="975.7" y="793.1" textLength="17.47" lengthAdjust="spacingAndGlyphs">LA</text><text x="975.7" y="808.1" textLength="29.05" lengthAdjust="spacingAndGlyphs">17.8</text><text x="1154.5" y="724.8" textLength="17.33" lengthAdjust="spacingAndGlyphs">AL</text><text x="1154.5" y="739.8" textLength="29.05" lengthAdjust="spacingAndGlyphs">19.0</text><text x="1262" y="718.5" textLength="19.09" lengthAdjust="spacingAndGlyphs">GA</text><text x="1262" y="733.5" textLength="29.05" lengthAdjust="spacingAndGlyphs">27.1</text><text x="1338.6" y="852.7" textLength="15.45" lengthAdjust="spacingAndGlyphs">FL</text><text x="1338.6" y="867.7" textLength="29.05" lengthAdjust="spacingAndGlyphs">24.8</text><text x="1335.3" y="658.1" textLength="17.88" lengthAdjust="spacingAndGlyphs">SC</text><text x="1335.3" y="673.1" textLength="29.05" lengthAdjust="spacingAndGlyphs">27.2</text><text x="1371.7" y="589.1" textLength="19.17" lengthAdjust="spacingAndGlyphs">NC</text><text x="1371.7" y="604.1" textLength="29.05" lengthAdjust="spacingAndGlyphs">26.5</text><text x="1158.7" y="606.8" textLength="18.66" lengthAdjust="spacingAndGlyphs">TN</text><text x="1158.7" y="621.8" textLength="29.05" lengthAdjust="spacingAndGlyphs">25.6</text><text x="1182.7" y="539.1" textLength="17.66" lengthAdjust="spacingAndGlyphs">KY</text><text x="1182.7" y="554.1" textLength="29.05" lengthAdjust="spacingAndGlyphs">35.3</text><text x="1374.7" y="511.5" textLength="18.3" lengthAdjust="spacingAndGlyphs">VA</text><text x="1374.7" y="526.5" textLength="29.05" lengthAdjust="spacingAndGlyphs">26.2</text><text x="1314.7" y="477.5" textLength="21.47" lengthAdjust="spacingAndGlyphs">WV</text><text x="1314.7" y="492.5" textLength="29.05" lengthAdjust="spacingAndGlyphs">40.0</text><text x="1242.7" y="424.1" textLength="19.73" lengthAdjust="spacingAndGlyphs">OH</text><text x="1242.7" y="439.1" textLength="29.05" lengthAdjust="spacingAndGlyphs">31.0</text><text x="1144.3" y="450.8" textLength="14.25" lengthAdjust="spacingAndGlyphs">IN</text><text x="1144.3" y="465.8" textLength="29.05" lengthAdjust="spacingAndGlyphs">33.5</text><text x="1166.3" y="282.5" textLength="16.56" lengthAdjust="spacingAndGlyphs">MI</text><text x="1166.3" y="297.5" textLength="29.05" lengthAdjust="spacingAndGlyphs">28.3</text><text x="1024.3" y="279.1" textLength="16.48" lengthAdjust="spacingAndGlyphs">WI</text><text x="1024.3" y="294.1" textLength="29.05" lengthAdjust="spacingAndGlyphs">25.2</text><text x="906.7" y="220.1" textLength="22.2" lengthAdjust="spacingAndGlyphs">MN</text><text x="906.7" y="235.1" textLength="29.05" lengthAdjust="spacingAndGlyphs">22.9</text><text x="745.7" y="175.1" textLength="19.13" lengthAdjust="spacingAndGlyphs">ND</text><text x="745.7" y="190.1" textLength="29.05" lengthAdjust="spacingAndGlyphs">34.8</text><text x="746.7" y="289.1" textLength="17.83" lengthAdjust="spacingAndGlyphs">SD</text><text x="746.7" y="304.1" textLength="29.05" lengthAdjust="spacingAndGlyphs">33.4</text><text x="1380" y="379.1" textLength="17.42" lengthAdjust="spacingAndGlyphs">PA</text><text x="1380" y="394.1" textLength="29.05" lengthAdjust="spacingAndGlyphs">39.0</text><text x="1427.3" y="287.8" textLength="18.45" lengthAdjust="spacingAndGlyphs">NY</text><text x="1427.3" y="302.8" textLength="29.05" lengthAdjust="spacingAndGlyphs">31.0</text><text x="1493" y="216.8" textLength="18" lengthAdjust="spacingAndGlyphs">VT</text><text x="1493" y="231.8" textLength="29.05" lengthAdjust="spacingAndGlyphs">24.5</text><text x="1526.3" y="234.8" textLength="19.91" lengthAdjust="spacingAndGlyphs">NH</text><text x="1526.3" y="249.8" textLength="29.05" lengthAdjust="spacingAndGlyphs">35.5</text><text x="1538.7" y="284.8" textLength="22" lengthAdjust="spacingAndGlyphs">MA</text><text x="1538.7" y="299.8" textLength="29.05" lengthAdjust="spacingAndGlyphs">33.9</text><text x="1518" y="319.8" textLength="17.7" lengthAdjust="spacingAndGlyphs">CT</text><text x="1518" y="334.8" textLength="29.05" lengthAdjust="spacingAndGlyphs">36.9</text><text x="1578" y="346.5" textLength="13.19" lengthAdjust="spacingAndGlyphs">RI</text><text x="1578" y="361.5" textLength="29.05" lengthAdjust="spacingAndGlyphs">33.7</text><text x="1478.7" y="388.1" textLength="17.86" lengthAdjust="spacingAndGlyphs">NJ</text><text x="1478.7" y="403.1" textLength="29.05" lengthAdjust="spacingAndGlyphs">35.5</text><text x="1504.3" y="442.5" textLength="17.14" lengthAdjust="spacingAndGlyphs">DE</text><text x="1504.3" y="457.5" textLength="29.05" lengthAdjust="spacingAndGlyphs">33.9</text><text x="1420.7" y="429.8" textLength="21.44" lengthAdjust="spacingAndGlyphs">MD</text><text x="1420.7" y="444.8" textLength="29.05" lengthAdjust="spacingAndGlyphs">23.9</text><text x="1502" y="481.8" textLength="18.39" lengthAdjust="spacingAndGlyphs">DC</text><text x="1502" y="496.8" textLength="29.05" lengthAdjust="spacingAndGlyphs">23.7</text><text x="1571.3" y="154.8" textLength="20.23" lengthAdjust="spacingAndGlyphs">ME</text><text x="1571.3" y="169.8" textLength="29.05" lengthAdjust="spacingAndGlyphs">24.4</text><text x="237.3" y="851.0" textLength="18.52" lengthAdjust="spacingAndGlyphs">AK</text><text x="237.3" y="866.0" textLength="29.05" lengthAdjust="spacingAndGlyphs">25.9</text><text x="626" y="988.1" textLength="14.27" lengthAdjust="spacingAndGlyphs">HI</text><text x="626" y="1003.1" textLength="29.05" lengthAdjust="spacingAndGlyphs">15.9</text><text x="1572.3" y="1006.8" textLength="18.03" lengthAdjust="spacingAndGlyphs">PR</text><text x="1572.3" y="1021.8" textLength="29.05" lengthAdjust="spacingAndGlyphs">42.6</text><text x="1639.5" y="1005.8" textLength="13.59" lengthAdjust="spacingAndGlyphs">VI</text><text x="1639.5" y="1020.8" textLength="29.05" lengthAdjust="spacingAndGlyphs">36.7</text></g>

<g class="leg">
<text x="1490.7" y="730" font-size="21.2" textLength="214.5" lengthAdjust="spacingAndGlyphs">Pizza Restaurants Per</text>
<text x="1505.4" y="757.6" font-size="21.2" textLength="189.8" lengthAdjust="spacingAndGlyphs">100,000 Population</text>
<rect x="1484.5" y="768.4" width="32.2" height="20.2" fill="#bd0026" stroke="#6a0015" stroke-width="1"/><text x="1523.8" y="783.8" font-size="16.8" textLength="84.1" lengthAdjust="spacingAndGlyphs">36 or More</text><rect x="1484.5" y="793.4" width="32.2" height="20.2" fill="#f03b20" stroke="#8a2010" stroke-width="1"/><text x="1523.8" y="808.6" font-size="16.8" textLength="87.6" lengthAdjust="spacingAndGlyphs">32 to 35.99</text><rect x="1484.5" y="818.4" width="32.2" height="20.2" fill="#fd8d3c" stroke="#8a4a1e" stroke-width="1"/><text x="1523.8" y="833.5" font-size="16.8" textLength="87.6" lengthAdjust="spacingAndGlyphs">28 to 31.99</text><rect x="1484.5" y="843.5" width="32.2" height="20.2" fill="#feb24c" stroke="#8a6128" stroke-width="1"/><text x="1523.8" y="858.3" font-size="16.8" textLength="87.8" lengthAdjust="spacingAndGlyphs">24 to 27.99</text><rect x="1484.5" y="868.5" width="32.2" height="20.2" fill="#fed976" stroke="#8a7540" stroke-width="1"/><text x="1523.8" y="883.2" font-size="16.8" textLength="87.8" lengthAdjust="spacingAndGlyphs">20 to 23.99</text><rect x="1484.5" y="893.5" width="32.2" height="20.2" fill="#ffffb2" stroke="#80805a" stroke-width="1"/><text x="1523.8" y="908.0" font-size="16.8" textLength="69.5" lengthAdjust="spacingAndGlyphs">Under 20</text>
<text x="1484" y="932.6" font-size="10.8" fill="#8c8c8c" textLength="222" lengthAdjust="spacingAndGlyphs">Source: HERE (October 2024) and ACS 2022</text>
</g>
<g>
<rect x="871.4" y="936" width="85" height="84.4" fill="#1b7bd6"/>
<defs><clipPath id="headclip"><path d="M915.7,943 C922,943.5 927,945.5 930,949 C934,952.5 937,957 937.8,963 C938.5,968 937,971 935.2,972.7 C933,976 930.7,979.7 930.7,979.7 C929.5,983 929.5,986.5 929.9,986.8 C930.5,990 931.2,993 931.6,993.9 C933,997 935.2,1000.9 935.2,1000.9 L925.4,1002.7 C921,1005 917.5,1008 917.5,1008 C912,1010.5 907.8,1012.4 907.8,1012.4 L895.4,1013.3 L897.2,1007.1 L900.7,999.2 L901.6,993.9 L896.3,992.1 L894.1,988.6 L893.6,984.1 L892.7,979.7 L891.4,976.6 L890.1,974.4 L892.3,969.1 L894.1,964.7 L893.6,960.3 C894.5,956 896.3,952.3 896.3,952.3 C899,948.5 903.4,946.1 903.4,946.1 C908,944 912,943 915.7,943 Z"/></clipPath></defs>
<path d="M915.7,943 C922,943.5 927,945.5 930,949 C934,952.5 937,957 937.8,963 C938.5,968 937,971 935.2,972.7 C933,976 930.7,979.7 930.7,979.7 C929.5,983 929.5,986.5 929.9,986.8 C930.5,990 931.2,993 931.6,993.9 C933,997 935.2,1000.9 935.2,1000.9 L925.4,1002.7 C921,1005 917.5,1008 917.5,1008 C912,1010.5 907.8,1012.4 907.8,1012.4 L895.4,1013.3 L897.2,1007.1 L900.7,999.2 L901.6,993.9 L896.3,992.1 L894.1,988.6 L893.6,984.1 L892.7,979.7 L891.4,976.6 L890.1,974.4 L892.3,969.1 L894.1,964.7 L893.6,960.3 C894.5,956 896.3,952.3 896.3,952.3 C899,948.5 903.4,946.1 903.4,946.1 C908,944 912,943 915.7,943 Z" fill="#fff" stroke="#c8ecff" stroke-width="1.6"/>
<g clip-path="url(#headclip)">
<path d="M898,966.5 L905.1,965.6 L912.2,970.9 L914,973.5 L910.4,978.8 L906.9,984.1 L905.1,988.6 L903.8,985.9 L901.6,978 L898.5,973.5 Z M922.8,958.5 L929.9,955.9 L935.2,961.2 L936.1,969.1 L933.4,975.3 L929.9,978 L929,972.7 L925.4,969.1 L922.8,965.6 Z M901.6,1005.4 L909.5,1001.8 L921,1002.7 L915.7,1008.9 L905.1,1010.7 L900.7,1008.9 Z M895,952 L902,947 L907,950 L903,955 L898,958 Z M923,950 L929,948 L934,953 L929,954 L924,955 Z" fill="#1b7bd6"/>
<path d="M907.8,940 V1015 M915.7,940 V1015 M922.8,940 V1015 M888,958.5 H940 M888,967.4 H940 M888,975.3 H940 M888,984.1 H940 M888,993 H940" stroke="#4a5a6a" stroke-width="0.45" fill="none"/>
</g>

<text x="966.5" y="989" font-family="'Archivo Black','Roboto','Liberation Sans',sans-serif" font-weight="900" font-size="73.5" fill="#000" textLength="344" lengthAdjust="spacingAndGlyphs">Maptitude</text>
<text x="968.4" y="1020.9" font-family="'Segoe UI','Open Sans','Liberation Sans',sans-serif" font-size="24" fill="#000" textLength="342.6" lengthAdjust="spacing">www.MappingSoftware.com</text>
</g>

<text class="title" x="501" y="47.2" textLength="712" lengthAdjust="spacingAndGlyphs">Concentration of Pizza Restaurants (2024)</text>
</svg>
</body></html>
